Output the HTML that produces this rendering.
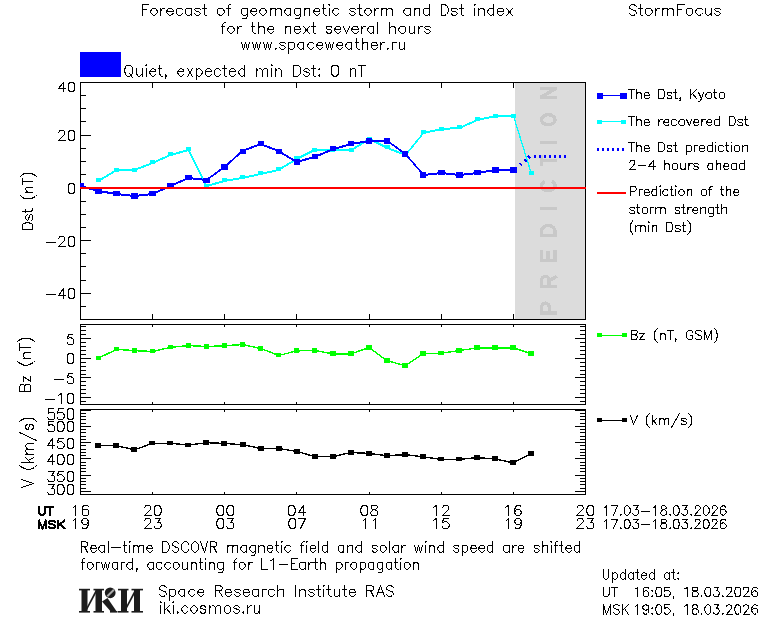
<!DOCTYPE html>
<html><head><meta charset="utf-8"><title>StormFocus</title>
<style>html,body{margin:0;padding:0;background:#fff}body{width:760px;height:620px;overflow:hidden;font-family:"Liberation Sans",sans-serif}svg{display:block}</style></head><body>
<svg width="760" height="620" viewBox="0 0 760 620" shape-rendering="crispEdges">
<rect width="760" height="620" fill="#fff"/>
<title>StormFocus</title>
<desc>Forecast of geomagnetic storm and Dst index for the next several hours. www.spaceweather.ru. Quiet, expected min Dst: 0 nT. Legend: The Dst, Kyoto; The recovered Dst; The Dst prediction 2-4 hours ahead; Prediction of the storm strength (min Dst); Bz (nT, GSM); V (km/s). Real-time DSCOVR magnetic field and solar wind speed are shifted forward, accounting for L1-Earth propagation. Space Research Institute RAS, iki.cosmos.ru. Updated at: UT 16:05, 18.03.2026; MSK 19:05, 18.03.2026.</desc>
<rect x="80" y="52" width="41" height="25" fill="#0000ff"/>
<path d="M80 95.5H86M580 95.5H586M80 108.5H86M580 108.5H586M80 121.5H86M580 121.5H586M80 135.5H91M575 135.5H586M80 148.5H86M580 148.5H586M80 161.5H86M580 161.5H586M80 174.5H86M580 174.5H586M80 187.5H91M575 187.5H586M80 201.5H86M580 201.5H586M80 214.5H86M580 214.5H586M80 227.5H86M580 227.5H586M80 240.5H91M575 240.5H586M80 253.5H86M580 253.5H586M80 266.5H86M580 266.5H586M80 280.5H86M580 280.5H586M80 293.5H91M575 293.5H586M80 306.5H86M580 306.5H586M152.5 82V88M152.5 314V320M224.5 82V88M224.5 314V320M296.5 82V88M296.5 314V320M369.5 82V88M369.5 314V320M441.5 82V88M441.5 314V320M513.5 82V88M513.5 314V320M80 401.5H86M580 401.5H586M80 397.5H91M575 397.5H586M80 393.5H86M580 393.5H586M80 389.5H86M580 389.5H586M80 385.5H86M580 385.5H586M80 381.5H86M580 381.5H586M80 377.5H91M575 377.5H586M80 374.5H86M580 374.5H586M80 370.5H86M580 370.5H586M80 366.5H86M580 366.5H586M80 362.5H86M580 362.5H586M80 358.5H91M575 358.5H586M80 354.5H86M580 354.5H586M80 350.5H86M580 350.5H586M80 346.5H86M580 346.5H586M80 342.5H86M580 342.5H586M80 338.5H91M575 338.5H586M80 334.5H86M580 334.5H586M80 330.5H86M580 330.5H586M80 326.5H86M580 326.5H586M152.5 324V327M152.5 402V405M224.5 324V327M224.5 402V405M296.5 324V327M296.5 402V405M369.5 324V327M369.5 402V405M441.5 324V327M441.5 402V405M513.5 324V327M513.5 402V405M80 491.5H91M575 491.5H586M80 488.5H86M580 488.5H586M80 484.5H86M580 484.5H586M80 481.5H86M580 481.5H586M80 478.5H86M580 478.5H586M80 475.5H91M575 475.5H586M80 471.5H86M580 471.5H586M80 468.5H86M580 468.5H586M80 465.5H86M580 465.5H586M80 462.5H86M580 462.5H586M80 458.5H91M575 458.5H586M80 455.5H86M580 455.5H586M80 452.5H86M580 452.5H586M80 449.5H86M580 449.5H586M80 445.5H86M580 445.5H586M80 442.5H91M575 442.5H586M80 439.5H86M580 439.5H586M80 436.5H86M580 436.5H586M80 432.5H86M580 432.5H586M80 429.5H86M580 429.5H586M80 426.5H91M575 426.5H586M80 423.5H86M580 423.5H586M80 419.5H86M580 419.5H586M80 416.5H86M580 416.5H586M80 413.5H86M580 413.5H586M152.5 409V412M152.5 492V495M224.5 409V412M224.5 492V495M296.5 409V412M296.5 492V495M369.5 409V412M369.5 492V495M441.5 409V412M441.5 492V495M513.5 409V412M513.5 492V495M80 410.5H91M575 410.5H586" fill="none" stroke="#000" stroke-width="1"/>
<rect x="515" y="83" width="70" height="236" fill="#dcdcdc"/>
<path d="M80.5 82.5H585.5V319.5H80.5ZM80.5 324.5H585.5V404.5H80.5ZM80.5 409.5H585.5V494.5H80.5Z" fill="none" stroke="#000" stroke-width="1"/>
<g fill="none" stroke="#c8c8c8" stroke-width="3.4" stroke-linejoin="miter">
<path transform="translate(539.8 314.7) rotate(-90)" d="M1.7 17V1.7H7.4A4.2 3.9 0 0 1 7.4 9.5H1.7"/>
<path transform="translate(539.8 288.1) rotate(-90)" d="M1.7 17V1.7H7.6A4.2 3.8 0 0 1 7.6 9.3H1.7M7.2 9.3L12 17"/>
<path transform="translate(539.8 262.1) rotate(-90)" d="M12.2 1.7H1.7V15.3H12.2M1.7 8.3H11"/>
<path transform="translate(539.8 237) rotate(-90)" d="M1.7 1.7H5.3A6.3 6.8 0 0 1 5.3 15.3H1.7Z"/>
<path transform="translate(539.8 210.3) rotate(-90)" d="M1.7 0V17"/>
<path transform="translate(539.8 193) rotate(-90)" d="M11.6 4.9A5.05 6.8 0 1 0 11.6 12.1"/>
<path transform="translate(539.8 166) rotate(-90)" d="M0 1.7H11.5M5.75 1.7V17"/>
<path transform="translate(539.8 144.2) rotate(-90)" d="M1.7 0V17"/>
<path transform="translate(539.8 126.5) rotate(-90)" d="M1.7 8.5A5.05 6.8 0 1 0 11.8 8.5A5.05 6.8 0 1 0 1.7 8.5Z"/>
<path transform="translate(539.8 99) rotate(-90)" d="M1.7 17V0M10.5 0V17M1.9 1.2L10.3 15.8"/>
</g>
<clipPath id="cp"><rect x="80" y="82" width="506" height="413"/></clipPath>
<g clip-path="url(#cp)">
<path d="M98.5 180.5L116.5 169.5L134.5 169.5L152.5 162.5L170.5 154.5L188.5 149.5L206.5 185.5L224.5 180.5L242.5 177.5L260.5 173.5L278.5 169.5L296.5 158.5L314.5 149.5L333.5 149.5L351.5 149.5L369.5 138.5L387.5 147.5L405.5 154.5L423.5 132.5L441.5 128.5L459.5 127.5L477.5 119.5L495.5 115.5L513.5 115.5L531.5 173.5" fill="none" stroke="#00ffff" stroke-width="1"/>
<path transform="translate(0 1)" d="M98.5 180.5L116.5 169.5L134.5 169.5L152.5 162.5L170.5 154.5L188.5 149.5L206.5 185.5L224.5 180.5L242.5 177.5L260.5 173.5L278.5 169.5L296.5 158.5L314.5 149.5L333.5 149.5L351.5 149.5L369.5 138.5L387.5 147.5L405.5 154.5L423.5 132.5L441.5 128.5L459.5 127.5L477.5 119.5L495.5 115.5L513.5 115.5L531.5 173.5" fill="none" stroke="#00ffff" stroke-width="1"/>
<path d="M96 178h5v4h-5zM114 168h5v4h-5zM132 168h5v4h-5zM150 160h5v4h-5zM168 152h5v4h-5zM186 147h5v4h-5zM204 184h5v4h-5zM222 178h5v4h-5zM240 175h5v4h-5zM258 171h5v4h-5zM276 167h5v4h-5zM294 156h5v4h-5zM312 148h5v4h-5zM330 148h5v4h-5zM349 148h5v4h-5zM367 137h5v4h-5zM385 145h5v4h-5zM403 152h5v4h-5zM421 130h5v4h-5zM439 127h5v4h-5zM457 125h5v4h-5zM475 117h5v4h-5zM493 114h5v4h-5zM511 114h5v4h-5zM529 171h5v4h-5z" fill="#00ffff"/>
<path d="M80.5 185.5L98.5 190.5L116.5 193.5L134.5 195.5L152.5 193.5L170.5 185.5L188.5 177.5L206.5 179.5L224.5 166.5L242.5 150.5L260.5 143.5L278.5 150.5L296.5 161.5L314.5 156.5L333.5 148.5L351.5 143.5L369.5 140.5L387.5 140.5L405.5 153.5L423.5 174.5L441.5 172.5L459.5 174.5L477.5 172.5L495.5 169.5L513.5 169.5" fill="none" stroke="#0000ff" stroke-width="1"/>
<path transform="translate(0 1)" d="M80.5 185.5L98.5 190.5L116.5 193.5L134.5 195.5L152.5 193.5L170.5 185.5L188.5 177.5L206.5 179.5L224.5 166.5L242.5 150.5L260.5 143.5L278.5 150.5L296.5 161.5L314.5 156.5L333.5 148.5L351.5 143.5L369.5 140.5L387.5 140.5L405.5 153.5L423.5 174.5L441.5 172.5L459.5 174.5L477.5 172.5L495.5 169.5L513.5 169.5" fill="none" stroke="#0000ff" stroke-width="1"/>
<path d="M77 183h7v5h-7zM95 188h7v6h-7zM113 191h7v5h-7zM131 193h7v6h-7zM149 191h7v5h-7zM167 183h7v5h-7zM185 175h7v5h-7zM203 178h7v5h-7zM221 164h7v6h-7zM240 149h6v5h-6zM258 141h6v5h-6zM276 149h6v5h-6zM294 159h6v6h-6zM312 154h6v5h-6zM330 146h6v5h-6zM348 141h6v5h-6zM366 138h6v6h-6zM384 138h6v6h-6zM402 151h6v6h-6zM420 172h6v6h-6zM438 170h7v5h-7zM456 172h7v6h-7zM474 170h7v5h-7zM492 167h7v6h-7zM510 167h7v6h-7z" fill="#0000ff"/>
<path d="M531.39 156.5H566.46" fill="none" stroke="#0000ff" stroke-width="3" stroke-dasharray="2 3" stroke-dashoffset="2.35"/>
<path d="M519.7 163.2l2.4 2.4M524 159.4l2.4 2.4M527.8 156l2.4 2.4" fill="none" stroke="#0000ff" stroke-width="2"/>
<rect x="80" y="187" width="506" height="2" fill="#ff0000"/>
<path d="M98.54 358.15L116.57 349.35L134.61 350.65L152.64 351.45L170.68 347.35L188.71 345.55L206.75 346.55L224.79 345.65L242.82 344.55L260.86 348.55L278.89 355.45L296.93 350.85L314.96 350.55L333 353.85L351.04 353.85L369.07 347.55L387.11 360.75L405.14 365.65L423.18 353.85L441.21 353.25L459.25 350.55L477.29 347.95L495.32 347.95L513.36 347.85L531.39 353.75" fill="none" stroke="#00ff00" stroke-width="1.4"/>
<path d="M96 356h5v4h-5zM114 347h5v4h-5zM132 348h5v5h-5zM150 349h5v4h-5zM168 345h5v4h-5zM186 343h5v5h-5zM204 344h5v5h-5zM222 343h5v5h-5zM240 342h5v5h-5zM258 346h5v5h-5zM276 353h5v4h-5zM294 348h5v5h-5zM312 348h5v5h-5zM330 351h6v5h-6zM348 351h6v5h-6zM366 345h6v5h-6zM384 358h6v5h-6zM402 363h6v5h-6zM420 351h6v5h-6zM438 351h6v4h-6zM456 348h6v5h-6zM474 345h6v5h-6zM492 345h6v5h-6zM510 345h6v5h-6zM528 351h6v5h-6z" fill="#00ff00"/>
<path d="M98.54 445.75L116.57 445.75L134.61 449.75L152.64 443.25L170.68 443.25L188.71 445.15L206.75 442.65L224.79 443.45L242.82 444.75L260.86 448.55L278.89 448.55L296.93 451.45L314.96 456.65L333 456.65L351.04 452.45L369.07 453.45L387.11 455.65L405.14 454.65L423.18 456.85L441.21 459.35L459.25 459.35L477.29 457.65L495.32 458.95L513.36 462.85L531.39 453.55" fill="none" stroke="#000" stroke-width="1.4"/>
<path d="M95 443h6v5h-6zM113 443h6v5h-6zM131 447h6v5h-6zM149 441h6v4h-6zM167 441h6v4h-6zM185 443h6v4h-6zM203 440h6v5h-6zM221 441h6v5h-6zM240 442h6v5h-6zM258 446h6v5h-6zM276 446h6v5h-6zM294 449h6v5h-6zM312 454h6v5h-6zM330 454h6v5h-6zM348 450h6v5h-6zM366 451h6v5h-6zM384 453h6v5h-6zM402 452h6v5h-6zM420 454h6v5h-6zM438 457h6v4h-6zM456 457h6v4h-6zM474 455h6v5h-6zM492 456h6v5h-6zM510 460h6v5h-6zM528 451h6v5h-6z" fill="#000"/>
</g>
<path d="M600 95.5H624" stroke="#0000ff" stroke-width="1" fill="none"/>
<path d="M597 93h6v6h-6zM620 93h7v6h-7z" fill="#0000ff"/>
<path d="M599 121.5H624" stroke="#00ffff" stroke-width="1" fill="none"/>
<path d="M597 120h5v4h-5zM621 120h5v4h-5z" fill="#00ffff"/>
<path d="M597 149.5H626" stroke="#0000ff" stroke-width="3" stroke-dasharray="2 3" fill="none"/>
<rect x="597" y="192" width="29" height="2" fill="#ff0000"/>
<path d="M599 335.5H625" stroke="#00ff00" stroke-width="1" fill="none"/>
<path d="M597 333h5v4h-5zM622 333h5v4h-5z" fill="#00ff00"/>
<path d="M599 420.5H625" stroke="#000" stroke-width="1" fill="none"/>
<path d="M597 418h5v4h-5zM622 418h5v4h-5z" fill="#000"/>
<path d="M142.5 4.5L142.5 15.5M142.5 4.5L148.5 4.5M142.5 9.5L146.5 9.5M153.5 8.5L152.5 8.5L151.5 9.5L150.5 11.5L150.5 12.5L151.5 13.5L152.5 14.5L153.5 15.5L154.5 15.5L155.5 14.5L156.5 13.5L157.5 12.5L157.5 11.5L156.5 9.5L155.5 8.5L154.5 8.5L153.5 8.5M160.5 8.5L160.5 15.5M160.5 11.5L161.5 9.5L162.5 8.5L163.5 8.5L164.5 8.5M166.5 11.5L173.5 11.5L173.5 10.5L172.5 9.5L171.5 8.5L170.5 8.5L169.5 8.5L168.5 8.5L167.5 9.5L166.5 11.5L166.5 12.5L167.5 13.5L168.5 14.5L169.5 15.5L170.5 15.5L171.5 14.5L173.5 13.5M182.5 9.5L181.5 8.5L180.5 8.5L178.5 8.5L177.5 8.5L176.5 9.5L176.5 11.5L176.5 12.5L176.5 13.5L177.5 14.5L178.5 15.5L180.5 15.5L181.5 14.5L182.5 13.5M191.5 8.5L191.5 15.5M191.5 9.5L190.5 8.5L189.5 8.5L187.5 8.5L186.5 8.5L185.5 9.5L185.5 11.5L185.5 12.5L185.5 13.5L186.5 14.5L187.5 15.5L189.5 15.5L190.5 14.5L191.5 13.5M200.5 9.5L199.5 8.5L198.5 8.5L196.5 8.5L195.5 8.5L194.5 9.5L195.5 10.5L196.5 11.5L198.5 11.5L199.5 12.5L200.5 13.5L199.5 14.5L198.5 15.5L196.5 15.5L195.5 14.5L194.5 13.5M204.5 4.5L204.5 13.5L204.5 14.5L205.5 15.5L206.5 15.5M202.5 8.5L206.5 8.5M220.5 8.5L218.5 8.5L217.5 9.5L217.5 11.5L217.5 12.5L217.5 13.5L218.5 14.5L220.5 15.5L221.5 15.5L222.5 14.5L223.5 13.5L224.5 12.5L224.5 11.5L223.5 9.5L222.5 8.5L221.5 8.5L220.5 8.5M230.5 4.5L229.5 4.5L228.5 5.5L228.5 6.5L228.5 15.5M226.5 8.5L230.5 8.5M247.5 8.5L247.5 16.5L246.5 17.5L246.5 18.5L245.5 18.5L243.5 18.5L242.5 18.5M247.5 9.5L246.5 8.5L245.5 8.5L243.5 8.5L242.5 8.5L241.5 9.5L241.5 11.5L241.5 12.5L241.5 13.5L242.5 14.5L243.5 15.5L245.5 15.5L246.5 14.5L247.5 13.5M250.5 11.5L256.5 11.5L256.5 10.5L256.5 9.5L255.5 8.5L254.5 8.5L253.5 8.5L252.5 8.5L251.5 9.5L250.5 11.5L250.5 12.5L251.5 13.5L252.5 14.5L253.5 15.5L254.5 15.5L255.5 14.5L256.5 13.5M262.5 8.5L261.5 8.5L260.5 9.5L259.5 11.5L259.5 12.5L260.5 13.5L261.5 14.5L262.5 15.5L263.5 15.5L264.5 14.5L265.5 13.5L266.5 12.5L266.5 11.5L265.5 9.5L264.5 8.5L263.5 8.5L262.5 8.5M270.5 8.5L270.5 15.5M270.5 10.5L271.5 8.5L272.5 8.5L274.5 8.5L275.5 8.5L275.5 10.5L275.5 15.5M275.5 10.5L277.5 8.5L278.5 8.5L279.5 8.5L280.5 8.5L281.5 10.5L281.5 15.5M290.5 8.5L290.5 15.5M290.5 9.5L289.5 8.5L288.5 8.5L287.5 8.5L286.5 8.5L285.5 9.5L284.5 11.5L284.5 12.5L285.5 13.5L286.5 14.5L287.5 15.5L288.5 15.5L289.5 14.5L290.5 13.5M300.5 8.5L300.5 16.5L299.5 17.5L299.5 18.5L298.5 18.5L296.5 18.5L295.5 18.5M300.5 9.5L299.5 8.5L298.5 8.5L296.5 8.5L295.5 8.5L294.5 9.5L294.5 11.5L294.5 12.5L294.5 13.5L295.5 14.5L296.5 15.5L298.5 15.5L299.5 14.5L300.5 13.5M304.5 8.5L304.5 15.5M304.5 10.5L305.5 8.5L306.5 8.5L308.5 8.5L309.5 8.5L309.5 10.5L309.5 15.5M313.5 11.5L319.5 11.5L319.5 10.5L319.5 9.5L318.5 8.5L317.5 8.5L316.5 8.5L315.5 8.5L314.5 9.5L313.5 11.5L313.5 12.5L314.5 13.5L315.5 14.5L316.5 15.5L317.5 15.5L318.5 14.5L319.5 13.5M323.5 4.5L323.5 13.5L324.5 14.5L325.5 15.5L326.5 15.5M322.5 8.5L325.5 8.5M328.5 4.5L329.5 5.5L329.5 4.5L328.5 4.5M329.5 8.5L329.5 15.5M338.5 9.5L337.5 8.5L336.5 8.5L335.5 8.5L334.5 8.5L333.5 9.5L332.5 11.5L332.5 12.5L333.5 13.5L334.5 14.5L335.5 15.5L336.5 15.5L337.5 14.5L338.5 13.5M355.5 9.5L354.5 8.5L353.5 8.5L351.5 8.5L350.5 8.5L349.5 9.5L350.5 10.5L351.5 11.5L353.5 11.5L354.5 12.5L355.5 13.5L354.5 14.5L353.5 15.5L351.5 15.5L350.5 14.5L349.5 13.5M359.5 4.5L359.5 13.5L359.5 14.5L361.5 15.5L362.5 15.5M357.5 8.5L361.5 8.5M367.5 8.5L366.5 8.5L365.5 9.5L364.5 11.5L364.5 12.5L365.5 13.5L366.5 14.5L367.5 15.5L368.5 15.5L369.5 14.5L370.5 13.5L371.5 12.5L371.5 11.5L370.5 9.5L369.5 8.5L368.5 8.5L367.5 8.5M374.5 8.5L374.5 15.5M374.5 11.5L375.5 9.5L376.5 8.5L377.5 8.5L378.5 8.5M381.5 8.5L381.5 15.5M381.5 10.5L382.5 8.5L383.5 8.5L385.5 8.5L386.5 8.5L386.5 10.5L386.5 15.5M386.5 10.5L388.5 8.5L389.5 8.5L390.5 8.5L391.5 8.5L392.5 10.5L392.5 15.5M410.5 8.5L410.5 15.5M410.5 9.5L409.5 8.5L408.5 8.5L406.5 8.5L405.5 8.5L404.5 9.5L403.5 11.5L403.5 12.5L404.5 13.5L405.5 14.5L406.5 15.5L408.5 15.5L409.5 14.5L410.5 13.5M414.5 8.5L414.5 15.5M414.5 10.5L415.5 8.5L416.5 8.5L418.5 8.5L419.5 8.5L419.5 10.5L419.5 15.5M429.5 4.5L429.5 15.5M429.5 9.5L428.5 8.5L427.5 8.5L425.5 8.5L424.5 8.5L423.5 9.5L423.5 11.5L423.5 12.5L423.5 13.5L424.5 14.5L425.5 15.5L427.5 15.5L428.5 14.5L429.5 13.5M441.5 4.5L441.5 15.5M441.5 4.5L444.5 4.5L446.5 5.5L447.5 6.5L447.5 7.5L448.5 8.5L448.5 11.5L447.5 12.5L447.5 13.5L446.5 14.5L444.5 15.5L441.5 15.5M457.5 9.5L456.5 8.5L455.5 8.5L453.5 8.5L451.5 8.5L451.5 9.5L451.5 10.5L452.5 11.5L455.5 11.5L456.5 12.5L457.5 13.5L456.5 14.5L455.5 15.5L453.5 15.5L451.5 14.5L451.5 13.5M461.5 4.5L461.5 13.5L461.5 14.5L462.5 15.5L463.5 15.5M459.5 8.5L463.5 8.5M474.5 4.5L474.5 5.5L475.5 4.5L474.5 4.5M474.5 8.5L474.5 15.5M478.5 8.5L478.5 15.5M478.5 10.5L480.5 8.5L481.5 8.5L482.5 8.5L483.5 8.5L484.5 10.5L484.5 15.5M493.5 4.5L493.5 15.5M493.5 9.5L492.5 8.5L491.5 8.5L490.5 8.5L489.5 8.5L488.5 9.5L487.5 11.5L487.5 12.5L488.5 13.5L489.5 14.5L490.5 15.5L491.5 15.5L492.5 14.5L493.5 13.5M497.5 11.5L503.5 11.5L503.5 10.5L503.5 9.5L502.5 8.5L501.5 8.5L499.5 8.5L498.5 8.5L497.5 9.5L497.5 11.5L497.5 12.5L497.5 13.5L498.5 14.5L499.5 15.5L501.5 15.5L502.5 14.5L503.5 13.5M506.5 8.5L512.5 15.5M512.5 8.5L506.5 15.5M225.5 22.5L224.5 22.5L223.5 23.5L222.5 24.5L222.5 33.5M221.5 26.5L224.5 26.5M230.5 26.5L229.5 26.5L228.5 27.5L227.5 29.5L227.5 30.5L228.5 31.5L229.5 32.5L230.5 33.5L231.5 33.5L232.5 32.5L233.5 31.5L234.5 30.5L234.5 29.5L233.5 27.5L232.5 26.5L231.5 26.5L230.5 26.5M237.5 26.5L237.5 33.5M237.5 29.5L238.5 27.5L239.5 26.5L240.5 26.5L241.5 26.5M252.5 22.5L252.5 31.5L253.5 32.5L254.5 33.5L255.5 33.5M251.5 26.5L254.5 26.5M258.5 22.5L258.5 33.5M258.5 28.5L259.5 26.5L260.5 26.5L262.5 26.5L263.5 26.5L264.5 28.5L264.5 33.5M267.5 29.5L273.5 29.5L273.5 28.5L273.5 27.5L272.5 26.5L271.5 26.5L270.5 26.5L269.5 26.5L268.5 27.5L267.5 29.5L267.5 30.5L268.5 31.5L269.5 32.5L270.5 33.5L271.5 33.5L272.5 32.5L273.5 31.5M285.5 26.5L285.5 33.5M285.5 28.5L286.5 26.5L287.5 26.5L289.5 26.5L290.5 26.5L290.5 28.5L290.5 33.5M294.5 29.5L300.5 29.5L300.5 28.5L299.5 27.5L299.5 26.5L298.5 26.5L296.5 26.5L295.5 26.5L294.5 27.5L294.5 29.5L294.5 30.5L294.5 31.5L295.5 32.5L296.5 33.5L298.5 33.5L299.5 32.5L300.5 31.5M303.5 26.5L309.5 33.5M309.5 26.5L303.5 33.5M313.5 22.5L313.5 31.5L313.5 32.5L314.5 33.5L315.5 33.5M311.5 26.5L315.5 26.5M331.5 27.5L331.5 26.5L329.5 26.5L328.5 26.5L326.5 26.5L326.5 27.5L326.5 28.5L327.5 29.5L330.5 29.5L331.5 30.5L331.5 31.5L331.5 32.5L329.5 33.5L328.5 33.5L326.5 32.5L326.5 31.5M334.5 29.5L340.5 29.5L340.5 28.5L340.5 27.5L339.5 26.5L338.5 26.5L337.5 26.5L336.5 26.5L335.5 27.5L334.5 29.5L334.5 30.5L335.5 31.5L336.5 32.5L337.5 33.5L338.5 33.5L339.5 32.5L340.5 31.5M343.5 26.5L346.5 33.5M349.5 26.5L346.5 33.5M351.5 29.5L358.5 29.5L358.5 28.5L357.5 27.5L357.5 26.5L356.5 26.5L354.5 26.5L353.5 26.5L352.5 27.5L351.5 29.5L351.5 30.5L352.5 31.5L353.5 32.5L354.5 33.5L356.5 33.5L357.5 32.5L358.5 31.5M361.5 26.5L361.5 33.5M361.5 29.5L362.5 27.5L363.5 26.5L364.5 26.5L365.5 26.5M373.5 26.5L373.5 33.5M373.5 27.5L372.5 26.5L371.5 26.5L370.5 26.5L369.5 26.5L368.5 27.5L367.5 29.5L367.5 30.5L368.5 31.5L369.5 32.5L370.5 33.5L371.5 33.5L372.5 32.5L373.5 31.5M377.5 22.5L377.5 33.5M389.5 22.5L389.5 33.5M389.5 28.5L391.5 26.5L392.5 26.5L393.5 26.5L394.5 26.5L395.5 28.5L395.5 33.5M401.5 26.5L400.5 26.5L399.5 27.5L398.5 29.5L398.5 30.5L399.5 31.5L400.5 32.5L401.5 33.5L403.5 33.5L404.5 32.5L405.5 31.5L405.5 30.5L405.5 29.5L405.5 27.5L404.5 26.5L403.5 26.5L401.5 26.5M409.5 26.5L409.5 31.5L409.5 32.5L410.5 33.5L412.5 33.5L413.5 32.5L414.5 31.5M414.5 26.5L414.5 33.5M418.5 26.5L418.5 33.5M418.5 29.5L419.5 27.5L420.5 26.5L421.5 26.5L422.5 26.5M430.5 27.5L429.5 26.5L428.5 26.5L426.5 26.5L425.5 26.5L424.5 27.5L425.5 28.5L426.5 29.5L428.5 29.5L429.5 30.5L430.5 31.5L429.5 32.5L428.5 33.5L426.5 33.5L425.5 32.5L424.5 31.5M241.5 42.5L243.5 49.5M245.5 42.5L243.5 49.5M245.5 42.5L247.5 49.5M249.5 42.5L247.5 49.5M252.5 42.5L254.5 49.5M256.5 42.5L254.5 49.5M256.5 42.5L258.5 49.5M260.5 42.5L258.5 49.5M263.5 42.5L265.5 49.5M267.5 42.5L265.5 49.5M267.5 42.5L269.5 49.5M271.5 42.5L269.5 49.5M275.5 48.5L275.5 49.5L276.5 48.5L275.5 48.5M285.5 43.5L284.5 42.5L283.5 42.5L281.5 42.5L280.5 42.5L279.5 43.5L280.5 44.5L281.5 45.5L283.5 45.5L284.5 46.5L285.5 47.5L284.5 48.5L283.5 49.5L281.5 49.5L280.5 48.5L279.5 47.5M288.5 42.5L288.5 53.5M288.5 43.5L289.5 42.5L290.5 42.5L292.5 42.5L293.5 42.5L294.5 43.5L294.5 45.5L294.5 46.5L294.5 47.5L293.5 48.5L292.5 49.5L290.5 49.5L289.5 48.5L288.5 47.5M303.5 42.5L303.5 49.5M303.5 43.5L302.5 42.5L301.5 42.5L300.5 42.5L299.5 42.5L298.5 43.5L297.5 45.5L297.5 46.5L298.5 47.5L299.5 48.5L300.5 49.5L301.5 49.5L302.5 48.5L303.5 47.5M313.5 43.5L312.5 42.5L311.5 42.5L310.5 42.5L309.5 42.5L308.5 43.5L307.5 45.5L307.5 46.5L308.5 47.5L309.5 48.5L310.5 49.5L311.5 49.5L312.5 48.5L313.5 47.5M316.5 45.5L322.5 45.5L322.5 44.5L322.5 43.5L321.5 42.5L320.5 42.5L319.5 42.5L318.5 42.5L317.5 43.5L316.5 45.5L316.5 46.5L317.5 47.5L318.5 48.5L319.5 49.5L320.5 49.5L321.5 48.5L322.5 47.5M325.5 42.5L327.5 49.5M329.5 42.5L327.5 49.5M329.5 42.5L331.5 49.5M333.5 42.5L331.5 49.5M336.5 45.5L342.5 45.5L342.5 44.5L342.5 43.5L341.5 42.5L340.5 42.5L339.5 42.5L338.5 42.5L337.5 43.5L336.5 45.5L336.5 46.5L337.5 47.5L338.5 48.5L339.5 49.5L340.5 49.5L341.5 48.5L342.5 47.5M351.5 42.5L351.5 49.5M351.5 43.5L350.5 42.5L349.5 42.5L348.5 42.5L347.5 42.5L346.5 43.5L345.5 45.5L345.5 46.5L346.5 47.5L347.5 48.5L348.5 49.5L349.5 49.5L350.5 48.5L351.5 47.5M356.5 38.5L356.5 47.5L357.5 48.5L358.5 49.5L359.5 49.5M355.5 42.5L358.5 42.5M362.5 38.5L362.5 49.5M362.5 44.5L363.5 42.5L364.5 42.5L366.5 42.5L367.5 42.5L367.5 44.5L367.5 49.5M371.5 45.5L377.5 45.5L377.5 44.5L376.5 43.5L376.5 42.5L375.5 42.5L373.5 42.5L372.5 42.5L371.5 43.5L371.5 45.5L371.5 46.5L371.5 47.5L372.5 48.5L373.5 49.5L375.5 49.5L376.5 48.5L377.5 47.5M380.5 42.5L380.5 49.5M380.5 45.5L381.5 43.5L382.5 42.5L383.5 42.5L384.5 42.5M387.5 48.5L387.5 49.5L388.5 48.5L387.5 48.5M392.5 42.5L392.5 49.5M392.5 45.5L392.5 43.5L393.5 42.5L394.5 42.5L396.5 42.5M399.5 42.5L399.5 47.5L399.5 48.5L400.5 49.5L402.5 49.5L403.5 48.5L404.5 47.5M404.5 42.5L404.5 49.5M636.5 6.5L635.5 5.5L633.5 4.5L631.5 4.5L630.5 5.5L629.5 6.5L629.5 7.5L629.5 8.5L630.5 8.5L631.5 9.5L634.5 10.5L635.5 10.5L635.5 11.5L636.5 12.5L636.5 13.5L635.5 14.5L633.5 15.5L631.5 15.5L630.5 14.5L629.5 13.5M640.5 4.5L640.5 13.5L640.5 14.5L641.5 15.5L642.5 15.5M638.5 8.5L642.5 8.5M647.5 8.5L646.5 8.5L645.5 9.5L645.5 11.5L645.5 12.5L645.5 13.5L646.5 14.5L647.5 15.5L649.5 15.5L650.5 14.5L651.5 13.5L652.5 12.5L652.5 11.5L651.5 9.5L650.5 8.5L649.5 8.5L647.5 8.5M655.5 8.5L655.5 15.5M655.5 11.5L656.5 9.5L657.5 8.5L658.5 8.5L659.5 8.5M662.5 8.5L662.5 15.5M662.5 10.5L663.5 8.5L664.5 8.5L666.5 8.5L667.5 8.5L667.5 10.5L667.5 15.5M667.5 10.5L669.5 8.5L670.5 8.5L671.5 8.5L672.5 8.5L673.5 10.5L673.5 15.5M677.5 4.5L677.5 15.5M677.5 4.5L684.5 4.5M677.5 9.5L681.5 9.5M688.5 8.5L687.5 8.5L686.5 9.5L686.5 11.5L686.5 12.5L686.5 13.5L687.5 14.5L688.5 15.5L690.5 15.5L691.5 14.5L692.5 13.5L692.5 12.5L692.5 11.5L692.5 9.5L691.5 8.5L690.5 8.5L688.5 8.5M702.5 9.5L701.5 8.5L699.5 8.5L698.5 8.5L697.5 8.5L696.5 9.5L695.5 11.5L695.5 12.5L696.5 13.5L697.5 14.5L698.5 15.5L699.5 15.5L701.5 14.5L702.5 13.5M705.5 8.5L705.5 13.5L706.5 14.5L707.5 15.5L708.5 15.5L709.5 14.5L711.5 13.5M711.5 8.5L711.5 15.5M720.5 9.5L719.5 8.5L718.5 8.5L716.5 8.5L715.5 8.5L714.5 9.5L715.5 10.5L716.5 11.5L718.5 11.5L719.5 12.5L720.5 13.5L719.5 14.5L718.5 15.5L716.5 15.5L715.5 14.5L714.5 13.5M127.5 65.5L126.5 65.5L125.5 66.5L125.5 67.5L124.5 69.5L124.5 71.5L125.5 73.5L125.5 74.5L126.5 75.5L127.5 76.5L129.5 76.5L130.5 75.5L131.5 74.5L132.5 73.5L132.5 71.5L132.5 69.5L132.5 67.5L131.5 66.5L130.5 65.5L129.5 65.5L127.5 65.5M129.5 73.5L132.5 77.5M136.5 68.5L136.5 73.5L137.5 75.5L138.5 76.5L139.5 76.5L140.5 75.5L142.5 73.5M142.5 68.5L142.5 76.5M145.5 65.5L146.5 65.5L146.5 64.5L145.5 65.5M146.5 68.5L146.5 76.5M149.5 71.5L155.5 71.5L155.5 70.5L155.5 69.5L154.5 69.5L153.5 68.5L152.5 68.5L151.5 69.5L150.5 70.5L149.5 71.5L149.5 72.5L150.5 74.5L151.5 75.5L152.5 76.5L153.5 76.5L154.5 75.5L155.5 74.5M159.5 65.5L159.5 73.5L160.5 75.5L161.5 76.5L162.5 76.5M158.5 68.5L161.5 68.5M166.5 75.5L165.5 76.5L165.5 75.5L165.5 74.5L166.5 75.5L166.5 76.5L165.5 77.5L165.5 78.5M177.5 71.5L183.5 71.5L183.5 70.5L183.5 69.5L182.5 69.5L181.5 68.5L180.5 68.5L179.5 69.5L178.5 70.5L177.5 71.5L177.5 72.5L178.5 74.5L179.5 75.5L180.5 76.5L181.5 76.5L182.5 75.5L183.5 74.5M187.5 68.5L192.5 76.5M192.5 68.5L187.5 76.5M196.5 68.5L196.5 79.5M196.5 70.5L197.5 69.5L198.5 68.5L199.5 68.5L200.5 69.5L201.5 70.5L202.5 71.5L202.5 72.5L201.5 74.5L200.5 75.5L199.5 76.5L198.5 76.5L197.5 75.5L196.5 74.5M205.5 71.5L211.5 71.5L211.5 70.5L210.5 69.5L209.5 68.5L207.5 68.5L206.5 69.5L205.5 70.5L205.5 71.5L205.5 72.5L205.5 74.5L206.5 75.5L207.5 76.5L209.5 76.5L210.5 75.5L211.5 74.5M220.5 70.5L219.5 69.5L218.5 68.5L216.5 68.5L215.5 69.5L214.5 70.5L214.5 71.5L214.5 72.5L214.5 74.5L215.5 75.5L216.5 76.5L218.5 76.5L219.5 75.5L220.5 74.5M224.5 65.5L224.5 73.5L224.5 75.5L225.5 76.5L226.5 76.5M222.5 68.5L226.5 68.5M229.5 71.5L235.5 71.5L235.5 70.5L234.5 69.5L233.5 68.5L231.5 68.5L230.5 69.5L229.5 70.5L229.5 71.5L229.5 72.5L229.5 74.5L230.5 75.5L231.5 76.5L233.5 76.5L234.5 75.5L235.5 74.5M244.5 65.5L244.5 76.5M244.5 70.5L243.5 69.5L242.5 68.5L241.5 68.5L240.5 69.5L239.5 70.5L238.5 71.5L238.5 72.5L239.5 74.5L240.5 75.5L241.5 76.5L242.5 76.5L243.5 75.5L244.5 74.5M256.5 68.5L256.5 76.5M256.5 70.5L258.5 69.5L259.5 68.5L260.5 68.5L261.5 69.5L262.5 70.5L262.5 76.5M262.5 70.5L263.5 69.5L264.5 68.5L266.5 68.5L267.5 69.5L267.5 70.5L267.5 76.5M271.5 65.5L272.5 65.5L271.5 64.5L271.5 65.5M271.5 68.5L271.5 76.5M275.5 68.5L275.5 76.5M275.5 70.5L277.5 69.5L278.5 68.5L279.5 68.5L280.5 69.5L281.5 70.5L281.5 76.5M293.5 65.5L293.5 76.5M293.5 65.5L297.5 65.5L298.5 65.5L299.5 66.5L300.5 67.5L300.5 69.5L300.5 71.5L300.5 73.5L299.5 74.5L298.5 75.5L297.5 76.5L293.5 76.5M309.5 70.5L308.5 69.5L307.5 68.5L305.5 68.5L304.5 69.5L303.5 70.5L304.5 71.5L305.5 71.5L307.5 72.5L308.5 72.5L309.5 73.5L309.5 74.5L308.5 75.5L307.5 76.5L305.5 76.5L304.5 75.5L303.5 74.5M313.5 65.5L313.5 73.5L313.5 75.5L314.5 76.5L315.5 76.5M311.5 68.5L315.5 68.5M319.5 68.5L318.5 69.5L319.5 69.5L319.5 68.5M319.5 74.5L318.5 75.5L319.5 76.5L319.5 75.5L319.5 74.5M334.5 65.5L332.5 65.5L331.5 67.5L331.5 69.5L331.5 71.5L331.5 73.5L332.5 75.5L334.5 76.5L335.5 76.5L337.5 75.5L338.5 73.5L338.5 71.5L338.5 69.5L338.5 67.5L337.5 65.5L335.5 65.5L334.5 65.5M350.5 68.5L350.5 76.5M350.5 70.5L351.5 69.5L352.5 68.5L354.5 68.5L355.5 69.5L355.5 70.5L355.5 76.5M361.5 65.5L361.5 76.5M358.5 65.5L365.5 65.5M63.5 82.5L58.5 88.5L65.5 88.5M63.5 82.5L63.5 91.5M71.5 82.5L69.5 82.5L68.5 84.5L68.5 86.5L68.5 87.5L68.5 89.5L69.5 91.5L71.5 91.5L73.5 91.5L74.5 89.5L74.5 87.5L74.5 86.5L74.5 84.5L73.5 82.5L71.5 82.5M58.5 132.5L59.5 131.5L59.5 130.5L60.5 130.5L62.5 130.5L63.5 130.5L64.5 131.5L64.5 132.5L64.5 133.5L64.5 134.5L63.5 135.5L58.5 140.5L65.5 140.5M71.5 130.5L69.5 130.5L68.5 132.5L68.5 134.5L68.5 136.5L68.5 138.5L69.5 140.5L71.5 140.5L73.5 140.5L74.5 138.5L74.5 136.5L74.5 134.5L74.5 132.5L73.5 130.5L71.5 130.5M71.5 183.5L69.5 183.5L68.5 185.5L68.5 187.5L68.5 189.5L68.5 191.5L69.5 193.5L71.5 193.5L73.5 193.5L74.5 191.5L74.5 189.5L74.5 187.5L74.5 185.5L73.5 183.5L71.5 183.5M46.5 242.5L55.5 242.5M58.5 238.5L59.5 237.5L59.5 236.5L60.5 236.5L62.5 236.5L63.5 236.5L64.5 237.5L64.5 238.5L64.5 239.5L64.5 240.5L63.5 241.5L58.5 246.5L65.5 246.5M71.5 236.5L69.5 236.5L68.5 238.5L68.5 240.5L68.5 242.5L68.5 244.5L69.5 246.5L71.5 246.5L73.5 246.5L74.5 244.5L74.5 242.5L74.5 240.5L74.5 238.5L73.5 236.5L71.5 236.5M46.5 294.5L55.5 294.5M63.5 288.5L58.5 295.5L65.5 295.5M63.5 288.5L63.5 298.5M71.5 288.5L69.5 288.5L68.5 290.5L68.5 292.5L68.5 294.5L68.5 296.5L69.5 298.5L71.5 298.5L73.5 298.5L74.5 296.5L74.5 294.5L74.5 292.5L74.5 290.5L73.5 288.5L71.5 288.5M22.5 229.5L32.5 229.5M22.5 229.5L22.5 226.5L22.5 224.5L23.5 223.5L24.5 223.5L26.5 222.5L28.5 222.5L30.5 223.5L31.5 223.5L32.5 224.5L32.5 226.5L32.5 229.5M27.5 214.5L26.5 215.5L25.5 216.5L25.5 218.5L26.5 219.5L27.5 220.5L28.5 219.5L28.5 218.5L29.5 216.5L29.5 215.5L30.5 214.5L31.5 214.5L32.5 215.5L32.5 216.5L32.5 218.5L32.5 219.5L31.5 220.5M22.5 211.5L30.5 211.5L32.5 210.5L32.5 209.5L32.5 208.5M25.5 212.5L25.5 209.5M20.5 195.5L21.5 196.5L22.5 197.5L24.5 198.5L27.5 198.5L29.5 198.5L31.5 198.5L33.5 197.5L35.5 196.5L36.5 195.5M25.5 192.5L32.5 192.5M27.5 192.5L26.5 190.5L25.5 189.5L25.5 188.5L26.5 187.5L27.5 187.5L32.5 187.5M22.5 181.5L32.5 181.5M22.5 184.5L22.5 178.5M20.5 176.5L21.5 175.5L22.5 174.5L24.5 173.5L27.5 173.5L29.5 173.5L31.5 173.5L33.5 174.5L35.5 175.5L36.5 176.5M72.5 334.5L68.5 334.5L67.5 338.5L68.5 338.5L69.5 337.5L70.5 337.5L72.5 338.5L73.5 339.5L73.5 340.5L73.5 341.5L73.5 343.5L72.5 344.5L70.5 344.5L69.5 344.5L68.5 344.5L67.5 343.5L67.5 342.5M70.5 353.5L68.5 353.5L67.5 355.5L67.5 357.5L67.5 359.5L67.5 361.5L68.5 363.5L70.5 363.5L72.5 363.5L73.5 361.5L73.5 359.5L73.5 357.5L73.5 355.5L72.5 353.5L70.5 353.5M54.5 379.5L63.5 379.5M72.5 373.5L68.5 373.5L67.5 377.5L68.5 377.5L69.5 376.5L70.5 376.5L72.5 377.5L73.5 378.5L73.5 379.5L73.5 380.5L73.5 382.5L72.5 383.5L70.5 383.5L69.5 383.5L68.5 383.5L67.5 382.5L67.5 381.5M45.5 399.5L54.5 399.5M58.5 395.5L59.5 394.5L61.5 393.5L61.5 403.5M70.5 393.5L68.5 393.5L67.5 395.5L67.5 397.5L67.5 399.5L67.5 401.5L68.5 403.5L70.5 403.5L72.5 403.5L73.5 401.5L73.5 399.5L73.5 397.5L73.5 395.5L72.5 393.5L70.5 393.5M19.5 391.5L30.5 391.5M19.5 391.5L19.5 386.5L20.5 385.5L20.5 384.5L21.5 384.5L22.5 384.5L23.5 384.5L24.5 385.5L24.5 386.5M24.5 391.5L24.5 386.5L25.5 385.5L25.5 384.5L26.5 384.5L28.5 384.5L29.5 384.5L30.5 385.5L30.5 386.5L30.5 391.5M23.5 376.5L30.5 381.5M23.5 381.5L23.5 376.5M30.5 381.5L30.5 376.5M17.5 361.5L18.5 362.5L20.5 363.5L22.5 364.5L24.5 365.5L26.5 365.5L29.5 364.5L31.5 363.5L33.5 362.5L34.5 361.5M23.5 358.5L30.5 358.5M25.5 358.5L23.5 356.5L23.5 355.5L23.5 354.5L23.5 353.5L25.5 352.5L30.5 352.5M19.5 347.5L30.5 347.5M19.5 350.5L19.5 343.5M17.5 341.5L18.5 340.5L20.5 339.5L22.5 338.5L24.5 338.5L26.5 338.5L29.5 338.5L31.5 339.5L33.5 340.5L34.5 341.5M53.5 408.5L48.5 408.5L48.5 413.5L48.5 412.5L50.5 412.5L51.5 412.5L53.5 412.5L54.5 413.5L54.5 415.5L54.5 416.5L54.5 418.5L53.5 419.5L51.5 419.5L50.5 419.5L48.5 419.5L48.5 418.5L47.5 417.5M63.5 408.5L58.5 408.5L57.5 413.5L58.5 412.5L59.5 412.5L61.5 412.5L62.5 412.5L63.5 413.5L64.5 415.5L64.5 416.5L63.5 418.5L62.5 419.5L61.5 419.5L59.5 419.5L58.5 419.5L57.5 418.5L57.5 417.5M70.5 408.5L68.5 408.5L67.5 410.5L67.5 413.5L67.5 414.5L67.5 417.5L68.5 419.5L70.5 419.5L72.5 419.5L73.5 417.5L73.5 414.5L73.5 413.5L73.5 410.5L72.5 408.5L70.5 408.5M53.5 421.5L48.5 421.5L48.5 425.5L50.5 424.5L51.5 424.5L53.5 425.5L54.5 426.5L54.5 427.5L54.5 428.5L54.5 430.5L53.5 431.5L51.5 431.5L50.5 431.5L48.5 431.5L48.5 430.5L47.5 429.5M60.5 421.5L58.5 421.5L57.5 423.5L57.5 425.5L57.5 427.5L57.5 429.5L58.5 431.5L60.5 431.5L61.5 431.5L62.5 431.5L63.5 429.5L64.5 427.5L64.5 425.5L63.5 423.5L62.5 421.5L61.5 421.5L60.5 421.5M70.5 421.5L68.5 421.5L67.5 423.5L67.5 425.5L67.5 427.5L67.5 429.5L68.5 431.5L70.5 431.5L72.5 431.5L73.5 429.5L73.5 427.5L73.5 425.5L73.5 423.5L72.5 421.5L70.5 421.5M52.5 438.5L47.5 445.5L54.5 445.5M52.5 438.5L52.5 448.5M63.5 438.5L58.5 438.5L57.5 442.5L58.5 442.5L59.5 441.5L61.5 441.5L62.5 442.5L63.5 443.5L64.5 444.5L64.5 445.5L63.5 447.5L62.5 448.5L61.5 448.5L59.5 448.5L58.5 448.5L57.5 447.5L57.5 446.5M70.5 438.5L68.5 438.5L67.5 440.5L67.5 442.5L67.5 444.5L67.5 446.5L68.5 448.5L70.5 448.5L72.5 448.5L73.5 446.5L73.5 444.5L73.5 442.5L73.5 440.5L72.5 438.5L70.5 438.5M52.5 454.5L47.5 461.5L54.5 461.5M52.5 454.5L52.5 464.5M60.5 454.5L58.5 454.5L57.5 456.5L57.5 458.5L57.5 460.5L57.5 462.5L58.5 464.5L60.5 464.5L61.5 464.5L62.5 464.5L63.5 462.5L64.5 460.5L64.5 458.5L63.5 456.5L62.5 454.5L61.5 454.5L60.5 454.5M70.5 454.5L68.5 454.5L67.5 456.5L67.5 458.5L67.5 460.5L67.5 462.5L68.5 464.5L70.5 464.5L72.5 464.5L73.5 462.5L73.5 460.5L73.5 458.5L73.5 456.5L72.5 454.5L70.5 454.5M48.5 471.5L54.5 471.5L51.5 475.5L52.5 475.5L53.5 475.5L54.5 476.5L54.5 477.5L54.5 478.5L54.5 480.5L53.5 481.5L51.5 481.5L50.5 481.5L48.5 481.5L48.5 480.5L47.5 479.5M63.5 471.5L58.5 471.5L57.5 475.5L58.5 475.5L59.5 474.5L61.5 474.5L62.5 475.5L63.5 476.5L64.5 477.5L64.5 478.5L63.5 480.5L62.5 481.5L61.5 481.5L59.5 481.5L58.5 481.5L57.5 480.5L57.5 479.5M70.5 471.5L68.5 471.5L67.5 473.5L67.5 475.5L67.5 477.5L67.5 479.5L68.5 481.5L70.5 481.5L72.5 481.5L73.5 479.5L73.5 477.5L73.5 475.5L73.5 473.5L72.5 471.5L70.5 471.5M48.5 484.5L54.5 484.5L51.5 488.5L52.5 488.5L53.5 488.5L54.5 489.5L54.5 490.5L54.5 491.5L54.5 493.5L53.5 494.5L51.5 494.5L50.5 494.5L48.5 494.5L48.5 493.5L47.5 492.5M60.5 484.5L58.5 484.5L57.5 486.5L57.5 488.5L57.5 490.5L57.5 492.5L58.5 494.5L60.5 494.5L61.5 494.5L62.5 494.5L63.5 492.5L64.5 490.5L64.5 488.5L63.5 486.5L62.5 484.5L61.5 484.5L60.5 484.5M70.5 484.5L68.5 484.5L67.5 486.5L67.5 488.5L67.5 490.5L67.5 492.5L68.5 494.5L70.5 494.5L72.5 494.5L73.5 492.5L73.5 490.5L73.5 488.5L73.5 486.5L72.5 484.5L70.5 484.5M21.5 487.5L33.5 483.5M21.5 479.5L33.5 483.5M19.5 465.5L20.5 466.5L22.5 467.5L24.5 468.5L27.5 469.5L29.5 469.5L32.5 468.5L34.5 467.5L35.5 466.5L36.5 465.5M21.5 462.5L33.5 462.5M25.5 457.5L30.5 462.5M28.5 460.5L33.5 457.5M25.5 454.5L33.5 454.5M27.5 454.5L26.5 452.5L25.5 451.5L25.5 450.5L26.5 449.5L27.5 449.5L33.5 449.5M27.5 449.5L26.5 447.5L25.5 446.5L25.5 445.5L26.5 444.5L27.5 443.5L33.5 443.5M19.5 432.5L36.5 440.5M27.5 424.5L26.5 424.5L25.5 426.5L25.5 427.5L26.5 429.5L27.5 429.5L28.5 429.5L28.5 428.5L29.5 425.5L29.5 424.5L30.5 424.5L31.5 424.5L32.5 424.5L33.5 426.5L33.5 427.5L32.5 429.5L31.5 429.5M19.5 421.5L20.5 420.5L22.5 419.5L24.5 418.5L27.5 418.5L29.5 418.5L32.5 418.5L34.5 419.5L35.5 420.5L36.5 421.5M73.5 507.5L74.5 506.5L75.5 505.5L75.5 515.5M88.5 506.5L87.5 505.5L86.5 505.5L85.5 505.5L83.5 505.5L82.5 507.5L82.5 509.5L82.5 512.5L82.5 514.5L83.5 515.5L85.5 515.5L87.5 515.5L88.5 514.5L88.5 512.5L88.5 510.5L87.5 509.5L85.5 509.5L83.5 509.5L82.5 510.5L82.5 512.5M73.5 520.5L74.5 519.5L75.5 518.5L75.5 528.5M88.5 521.5L87.5 523.5L86.5 524.5L85.5 524.5L84.5 524.5L83.5 524.5L82.5 523.5L81.5 521.5L82.5 519.5L83.5 518.5L84.5 518.5L85.5 518.5L86.5 518.5L87.5 519.5L88.5 521.5L88.5 524.5L87.5 526.5L86.5 528.5L85.5 528.5L84.5 528.5L82.5 528.5L82.5 527.5M144.5 507.5L145.5 506.5L145.5 505.5L146.5 505.5L148.5 505.5L149.5 505.5L150.5 506.5L150.5 507.5L150.5 508.5L150.5 509.5L149.5 510.5L144.5 515.5L151.5 515.5M157.5 505.5L155.5 505.5L154.5 507.5L154.5 509.5L154.5 511.5L154.5 513.5L155.5 515.5L157.5 515.5L158.5 515.5L159.5 515.5L160.5 513.5L161.5 511.5L161.5 509.5L160.5 507.5L159.5 505.5L158.5 505.5L157.5 505.5M144.5 520.5L145.5 519.5L145.5 518.5L146.5 518.5L148.5 518.5L149.5 518.5L150.5 519.5L150.5 520.5L150.5 521.5L150.5 522.5L149.5 523.5L144.5 528.5L151.5 528.5M155.5 518.5L160.5 518.5L157.5 522.5L159.5 522.5L160.5 522.5L160.5 523.5L161.5 524.5L161.5 525.5L160.5 527.5L159.5 528.5L158.5 528.5L156.5 528.5L155.5 528.5L154.5 527.5L154.5 526.5M219.5 505.5L218.5 505.5L217.5 507.5L216.5 509.5L216.5 511.5L217.5 513.5L218.5 515.5L219.5 515.5L220.5 515.5L222.5 515.5L223.5 513.5L223.5 511.5L223.5 509.5L223.5 507.5L222.5 505.5L220.5 505.5L219.5 505.5M229.5 505.5L228.5 505.5L227.5 507.5L226.5 509.5L226.5 511.5L227.5 513.5L228.5 515.5L229.5 515.5L230.5 515.5L232.5 515.5L233.5 513.5L233.5 511.5L233.5 509.5L233.5 507.5L232.5 505.5L230.5 505.5L229.5 505.5M219.5 518.5L218.5 518.5L217.5 520.5L216.5 522.5L216.5 524.5L217.5 526.5L218.5 528.5L219.5 528.5L220.5 528.5L222.5 528.5L223.5 526.5L223.5 524.5L223.5 522.5L223.5 520.5L222.5 518.5L220.5 518.5L219.5 518.5M227.5 518.5L233.5 518.5L230.5 522.5L231.5 522.5L232.5 522.5L233.5 523.5L233.5 524.5L233.5 525.5L233.5 527.5L232.5 528.5L230.5 528.5L229.5 528.5L227.5 528.5L227.5 527.5L226.5 526.5M291.5 505.5L289.5 505.5L288.5 507.5L288.5 509.5L288.5 511.5L288.5 513.5L289.5 515.5L291.5 515.5L292.5 515.5L293.5 515.5L294.5 513.5L295.5 511.5L295.5 509.5L294.5 507.5L293.5 505.5L292.5 505.5L291.5 505.5M303.5 505.5L298.5 512.5L305.5 512.5M303.5 505.5L303.5 515.5M291.5 518.5L290.5 518.5L289.5 520.5L288.5 522.5L288.5 524.5L289.5 526.5L290.5 528.5L291.5 528.5L292.5 528.5L294.5 528.5L295.5 526.5L295.5 524.5L295.5 522.5L295.5 520.5L294.5 518.5L292.5 518.5L291.5 518.5M305.5 518.5L300.5 528.5M298.5 518.5L305.5 518.5M363.5 505.5L362.5 505.5L361.5 507.5L360.5 509.5L360.5 511.5L361.5 513.5L362.5 515.5L363.5 515.5L364.5 515.5L366.5 515.5L367.5 513.5L367.5 511.5L367.5 509.5L367.5 507.5L366.5 505.5L364.5 505.5L363.5 505.5M373.5 505.5L371.5 505.5L371.5 506.5L371.5 507.5L371.5 508.5L372.5 509.5L374.5 509.5L376.5 510.5L377.5 511.5L377.5 512.5L377.5 513.5L377.5 514.5L376.5 515.5L375.5 515.5L373.5 515.5L371.5 515.5L371.5 514.5L370.5 513.5L370.5 512.5L371.5 511.5L372.5 510.5L373.5 509.5L375.5 509.5L376.5 508.5L377.5 507.5L377.5 506.5L376.5 505.5L375.5 505.5L373.5 505.5M363.5 520.5L364.5 519.5L365.5 518.5L365.5 528.5M373.5 520.5L374.5 519.5L375.5 518.5L375.5 528.5M433.5 507.5L434.5 506.5L436.5 505.5L436.5 515.5M442.5 507.5L443.5 506.5L443.5 505.5L444.5 505.5L446.5 505.5L447.5 505.5L448.5 506.5L448.5 507.5L448.5 508.5L448.5 509.5L447.5 510.5L442.5 515.5L449.5 515.5M433.5 520.5L434.5 519.5L436.5 518.5L436.5 528.5M448.5 518.5L443.5 518.5L442.5 522.5L443.5 522.5L444.5 521.5L446.5 521.5L447.5 522.5L448.5 523.5L449.5 524.5L449.5 525.5L448.5 527.5L447.5 528.5L446.5 528.5L444.5 528.5L443.5 528.5L442.5 527.5L442.5 526.5M505.5 507.5L506.5 506.5L508.5 505.5L508.5 515.5M520.5 506.5L520.5 505.5L518.5 505.5L517.5 505.5L516.5 505.5L515.5 507.5L514.5 509.5L514.5 512.5L515.5 514.5L516.5 515.5L517.5 515.5L518.5 515.5L519.5 515.5L520.5 514.5L521.5 512.5L520.5 510.5L519.5 509.5L518.5 509.5L517.5 509.5L516.5 509.5L515.5 510.5L514.5 512.5M506.5 520.5L507.5 519.5L508.5 518.5L508.5 528.5M521.5 521.5L520.5 523.5L519.5 524.5L518.5 524.5L517.5 524.5L516.5 524.5L515.5 523.5L514.5 521.5L515.5 519.5L516.5 518.5L517.5 518.5L518.5 518.5L519.5 518.5L520.5 519.5L521.5 521.5L521.5 524.5L520.5 526.5L519.5 528.5L518.5 528.5L517.5 528.5L515.5 528.5L515.5 527.5M577.5 507.5L577.5 506.5L578.5 505.5L579.5 505.5L581.5 505.5L582.5 505.5L582.5 506.5L583.5 507.5L583.5 508.5L582.5 509.5L581.5 510.5L576.5 515.5L583.5 515.5M589.5 505.5L588.5 505.5L587.5 507.5L586.5 509.5L586.5 511.5L587.5 513.5L588.5 515.5L589.5 515.5L590.5 515.5L592.5 515.5L593.5 513.5L593.5 511.5L593.5 509.5L593.5 507.5L592.5 505.5L590.5 505.5L589.5 505.5M577.5 520.5L577.5 519.5L578.5 518.5L579.5 518.5L581.5 518.5L582.5 518.5L582.5 519.5L583.5 520.5L583.5 521.5L582.5 522.5L581.5 523.5L576.5 528.5L583.5 528.5M587.5 518.5L593.5 518.5L590.5 522.5L591.5 522.5L592.5 522.5L593.5 523.5L593.5 524.5L593.5 525.5L593.5 527.5L592.5 528.5L590.5 528.5L589.5 528.5L587.5 528.5L587.5 527.5L586.5 526.5M604.5 507.5L605.5 507.5L606.5 505.5L606.5 515.5M617.5 505.5L613.5 515.5M611.5 505.5L617.5 505.5M620.5 514.5L620.5 515.5L621.5 514.5L620.5 514.5M626.5 505.5L625.5 506.5L624.5 507.5L624.5 509.5L624.5 511.5L624.5 513.5L625.5 514.5L626.5 515.5L627.5 515.5L628.5 514.5L629.5 513.5L630.5 511.5L630.5 509.5L629.5 507.5L628.5 506.5L627.5 505.5L626.5 505.5M633.5 505.5L638.5 505.5L635.5 509.5L636.5 509.5L637.5 509.5L638.5 510.5L638.5 511.5L638.5 512.5L638.5 513.5L637.5 514.5L636.5 515.5L634.5 515.5L633.5 514.5L632.5 513.5M641.5 511.5L649.5 511.5M653.5 507.5L654.5 507.5L655.5 505.5L655.5 515.5M662.5 505.5L661.5 506.5L661.5 507.5L661.5 508.5L662.5 509.5L664.5 509.5L665.5 510.5L666.5 511.5L666.5 512.5L666.5 513.5L666.5 514.5L665.5 514.5L664.5 515.5L662.5 515.5L661.5 514.5L660.5 513.5L660.5 512.5L661.5 511.5L661.5 510.5L663.5 509.5L664.5 509.5L665.5 508.5L666.5 508.5L666.5 507.5L665.5 506.5L664.5 505.5L662.5 505.5M670.5 514.5L669.5 514.5L670.5 515.5L670.5 514.5M675.5 505.5L674.5 506.5L673.5 507.5L673.5 509.5L673.5 511.5L673.5 513.5L674.5 514.5L675.5 515.5L676.5 515.5L678.5 514.5L678.5 513.5L679.5 511.5L679.5 509.5L678.5 507.5L678.5 506.5L676.5 505.5L675.5 505.5M682.5 505.5L687.5 505.5L684.5 509.5L686.5 509.5L687.5 510.5L687.5 511.5L687.5 512.5L687.5 513.5L686.5 514.5L685.5 515.5L684.5 515.5L682.5 514.5L681.5 513.5M691.5 514.5L690.5 514.5L691.5 515.5L691.5 514.5M695.5 508.5L695.5 507.5L695.5 506.5L696.5 505.5L698.5 505.5L699.5 506.5L700.5 507.5L700.5 508.5L699.5 509.5L698.5 510.5L694.5 515.5L700.5 515.5M705.5 505.5L704.5 506.5L703.5 507.5L703.5 509.5L703.5 511.5L703.5 513.5L704.5 514.5L705.5 515.5L706.5 515.5L707.5 514.5L708.5 513.5L709.5 511.5L709.5 509.5L708.5 507.5L707.5 506.5L706.5 505.5L705.5 505.5M712.5 508.5L712.5 507.5L712.5 506.5L713.5 505.5L715.5 505.5L716.5 506.5L717.5 507.5L717.5 508.5L716.5 509.5L715.5 510.5L711.5 515.5L717.5 515.5M725.5 507.5L725.5 506.5L723.5 505.5L721.5 506.5L720.5 507.5L720.5 509.5L720.5 512.5L720.5 513.5L721.5 514.5L723.5 515.5L724.5 514.5L725.5 513.5L726.5 512.5L725.5 510.5L724.5 509.5L723.5 509.5L721.5 509.5L720.5 510.5L720.5 512.5M604.5 521.5L605.5 520.5L606.5 519.5L606.5 528.5M617.5 519.5L613.5 528.5M611.5 519.5L617.5 519.5M620.5 527.5L620.5 528.5L621.5 528.5L620.5 527.5M626.5 519.5L625.5 519.5L624.5 521.5L624.5 523.5L624.5 524.5L624.5 526.5L625.5 528.5L626.5 528.5L627.5 528.5L628.5 528.5L629.5 526.5L630.5 524.5L630.5 523.5L629.5 521.5L628.5 519.5L627.5 519.5L626.5 519.5M633.5 519.5L638.5 519.5L635.5 522.5L636.5 522.5L637.5 523.5L638.5 523.5L638.5 525.5L638.5 526.5L638.5 527.5L637.5 528.5L636.5 528.5L634.5 528.5L633.5 528.5L633.5 527.5L632.5 526.5M641.5 524.5L649.5 524.5M653.5 521.5L654.5 520.5L655.5 519.5L655.5 528.5M662.5 519.5L661.5 519.5L661.5 520.5L661.5 521.5L661.5 522.5L662.5 522.5L664.5 523.5L665.5 523.5L666.5 524.5L666.5 525.5L666.5 526.5L666.5 527.5L665.5 528.5L664.5 528.5L662.5 528.5L661.5 528.5L661.5 527.5L660.5 526.5L660.5 525.5L661.5 524.5L661.5 523.5L663.5 523.5L664.5 522.5L665.5 522.5L666.5 521.5L666.5 520.5L665.5 519.5L664.5 519.5L662.5 519.5M670.5 527.5L669.5 528.5L670.5 528.5L670.5 527.5M675.5 519.5L674.5 519.5L673.5 521.5L673.5 523.5L673.5 524.5L673.5 526.5L674.5 528.5L675.5 528.5L676.5 528.5L678.5 528.5L678.5 526.5L679.5 524.5L679.5 523.5L678.5 521.5L678.5 519.5L676.5 519.5L675.5 519.5M682.5 519.5L687.5 519.5L684.5 522.5L686.5 522.5L686.5 523.5L687.5 523.5L687.5 525.5L687.5 526.5L687.5 527.5L686.5 528.5L685.5 528.5L684.5 528.5L682.5 528.5L682.5 527.5L681.5 526.5M691.5 527.5L690.5 528.5L691.5 528.5L691.5 527.5M695.5 521.5L695.5 520.5L695.5 519.5L696.5 519.5L698.5 519.5L699.5 519.5L699.5 520.5L700.5 521.5L699.5 522.5L698.5 524.5L694.5 528.5L700.5 528.5M705.5 519.5L704.5 519.5L703.5 521.5L703.5 523.5L703.5 524.5L703.5 526.5L704.5 528.5L705.5 528.5L706.5 528.5L707.5 528.5L708.5 526.5L709.5 524.5L709.5 523.5L708.5 521.5L707.5 519.5L706.5 519.5L705.5 519.5M712.5 521.5L712.5 520.5L712.5 519.5L713.5 519.5L715.5 519.5L716.5 519.5L716.5 520.5L717.5 521.5L716.5 522.5L715.5 524.5L711.5 528.5L717.5 528.5M725.5 520.5L725.5 519.5L723.5 519.5L721.5 519.5L720.5 521.5L720.5 523.5L720.5 525.5L720.5 527.5L721.5 528.5L723.5 528.5L724.5 528.5L725.5 527.5L726.5 526.5L726.5 525.5L725.5 524.5L724.5 523.5L723.5 522.5L721.5 523.5L720.5 524.5L720.5 525.5M81.5 541.5L81.5 552.5M81.5 541.5L85.5 541.5L86.5 542.5L87.5 542.5L87.5 543.5L87.5 544.5L87.5 545.5L86.5 546.5L85.5 546.5L81.5 546.5M84.5 546.5L87.5 552.5M90.5 548.5L96.5 548.5L96.5 547.5L95.5 546.5L95.5 545.5L94.5 545.5L92.5 545.5L91.5 545.5L91.5 546.5L90.5 548.5L90.5 549.5L91.5 550.5L91.5 551.5L92.5 552.5L94.5 552.5L95.5 551.5L96.5 550.5M104.5 545.5L104.5 552.5M104.5 546.5L103.5 545.5L102.5 545.5L101.5 545.5L100.5 545.5L99.5 546.5L98.5 548.5L98.5 549.5L99.5 550.5L100.5 551.5L101.5 552.5L102.5 552.5L103.5 551.5L104.5 550.5M108.5 541.5L108.5 552.5M111.5 547.5L120.5 547.5M124.5 541.5L124.5 550.5L124.5 551.5L125.5 552.5L126.5 552.5M123.5 545.5L126.5 545.5M129.5 541.5L129.5 542.5L130.5 541.5L129.5 541.5M129.5 545.5L129.5 552.5M133.5 545.5L133.5 552.5M133.5 547.5L134.5 545.5L135.5 545.5L136.5 545.5L137.5 545.5L138.5 547.5L138.5 552.5M138.5 547.5L139.5 545.5L140.5 545.5L142.5 545.5L143.5 545.5L143.5 547.5L143.5 552.5M146.5 548.5L152.5 548.5L152.5 547.5L151.5 546.5L151.5 545.5L150.5 545.5L149.5 545.5L148.5 545.5L147.5 546.5L146.5 548.5L146.5 549.5L147.5 550.5L148.5 551.5L149.5 552.5L150.5 552.5L151.5 551.5L152.5 550.5M162.5 541.5L162.5 552.5M162.5 541.5L166.5 541.5L167.5 542.5L168.5 543.5L168.5 544.5L169.5 545.5L169.5 548.5L168.5 549.5L168.5 550.5L167.5 551.5L166.5 552.5L162.5 552.5M178.5 543.5L177.5 542.5L176.5 541.5L174.5 541.5L173.5 542.5L172.5 543.5L172.5 544.5L172.5 545.5L173.5 545.5L174.5 546.5L176.5 547.5L177.5 547.5L178.5 548.5L178.5 549.5L178.5 550.5L177.5 551.5L176.5 552.5L174.5 552.5L173.5 551.5L172.5 550.5M188.5 544.5L188.5 543.5L187.5 542.5L186.5 541.5L184.5 541.5L183.5 542.5L182.5 543.5L181.5 544.5L181.5 545.5L181.5 548.5L181.5 549.5L182.5 550.5L183.5 551.5L184.5 552.5L186.5 552.5L187.5 551.5L188.5 550.5L188.5 549.5M194.5 541.5L193.5 542.5L192.5 543.5L191.5 544.5L191.5 545.5L191.5 548.5L191.5 549.5L192.5 550.5L193.5 551.5L194.5 552.5L195.5 552.5L196.5 551.5L197.5 550.5L198.5 549.5L198.5 548.5L198.5 545.5L198.5 544.5L197.5 543.5L196.5 542.5L195.5 541.5L194.5 541.5M200.5 541.5L204.5 552.5M207.5 541.5L204.5 552.5M210.5 541.5L210.5 552.5M210.5 541.5L214.5 541.5L215.5 542.5L216.5 542.5L216.5 543.5L216.5 544.5L216.5 545.5L215.5 546.5L214.5 546.5L210.5 546.5M213.5 546.5L216.5 552.5M227.5 545.5L227.5 552.5M227.5 547.5L228.5 545.5L229.5 545.5L231.5 545.5L232.5 545.5L232.5 547.5L232.5 552.5M232.5 547.5L233.5 545.5L234.5 545.5L236.5 545.5L237.5 545.5L237.5 547.5L237.5 552.5M246.5 545.5L246.5 552.5M246.5 546.5L245.5 545.5L244.5 545.5L243.5 545.5L242.5 545.5L241.5 546.5L240.5 548.5L240.5 549.5L241.5 550.5L242.5 551.5L243.5 552.5L244.5 552.5L245.5 551.5L246.5 550.5M255.5 545.5L255.5 553.5L254.5 554.5L254.5 555.5L253.5 555.5L252.5 555.5L251.5 555.5M255.5 546.5L254.5 545.5L253.5 545.5L252.5 545.5L251.5 545.5L250.5 546.5L249.5 548.5L249.5 549.5L250.5 550.5L251.5 551.5L252.5 552.5L253.5 552.5L254.5 551.5L255.5 550.5M258.5 545.5L258.5 552.5M258.5 547.5L260.5 545.5L261.5 545.5L262.5 545.5L263.5 545.5L264.5 547.5L264.5 552.5M267.5 548.5L272.5 548.5L272.5 547.5L272.5 546.5L271.5 545.5L269.5 545.5L268.5 545.5L267.5 546.5L267.5 548.5L267.5 549.5L267.5 550.5L268.5 551.5L269.5 552.5L271.5 552.5L271.5 551.5L272.5 550.5M276.5 541.5L276.5 550.5L277.5 551.5L278.5 552.5M275.5 545.5L278.5 545.5M281.5 541.5L281.5 542.5L282.5 541.5L281.5 541.5M281.5 545.5L281.5 552.5M290.5 546.5L289.5 545.5L288.5 545.5L287.5 545.5L286.5 545.5L285.5 546.5L284.5 548.5L284.5 549.5L285.5 550.5L286.5 551.5L287.5 552.5L288.5 552.5L289.5 551.5L290.5 550.5M304.5 541.5L303.5 541.5L302.5 542.5L301.5 543.5L301.5 552.5M300.5 545.5L303.5 545.5M306.5 541.5L306.5 542.5L307.5 541.5L306.5 541.5M306.5 545.5L306.5 552.5M310.5 548.5L315.5 548.5L315.5 547.5L315.5 546.5L314.5 545.5L313.5 545.5L312.5 545.5L311.5 545.5L310.5 546.5L310.5 548.5L310.5 549.5L310.5 550.5L311.5 551.5L312.5 552.5L313.5 552.5L314.5 551.5L315.5 550.5M318.5 541.5L318.5 552.5M327.5 541.5L327.5 552.5M327.5 546.5L326.5 545.5L325.5 545.5L324.5 545.5L323.5 545.5L322.5 546.5L322.5 548.5L322.5 549.5L322.5 550.5L323.5 551.5L324.5 552.5L325.5 552.5L326.5 551.5L327.5 550.5M343.5 545.5L343.5 552.5M343.5 546.5L342.5 545.5L340.5 545.5L339.5 545.5L338.5 546.5L338.5 548.5L338.5 549.5L338.5 550.5L339.5 551.5L340.5 552.5L342.5 552.5L342.5 551.5L343.5 550.5M347.5 545.5L347.5 552.5M347.5 547.5L349.5 545.5L351.5 545.5L352.5 545.5L352.5 547.5L352.5 552.5M361.5 541.5L361.5 552.5M361.5 546.5L360.5 545.5L359.5 545.5L358.5 545.5L357.5 545.5L356.5 546.5L355.5 548.5L355.5 549.5L356.5 550.5L357.5 551.5L358.5 552.5L359.5 552.5L360.5 551.5L361.5 550.5M377.5 546.5L376.5 545.5L375.5 545.5L374.5 545.5L372.5 545.5L372.5 546.5L372.5 547.5L373.5 548.5L375.5 548.5L376.5 549.5L377.5 550.5L376.5 551.5L375.5 552.5L374.5 552.5L372.5 551.5L372.5 550.5M382.5 545.5L381.5 545.5L380.5 546.5L380.5 548.5L380.5 549.5L380.5 550.5L381.5 551.5L382.5 552.5L383.5 552.5L384.5 551.5L385.5 550.5L386.5 549.5L386.5 548.5L385.5 546.5L384.5 545.5L383.5 545.5L382.5 545.5M389.5 541.5L389.5 552.5M398.5 545.5L398.5 552.5M398.5 546.5L397.5 545.5L396.5 545.5L394.5 545.5L393.5 546.5L392.5 548.5L392.5 549.5L393.5 550.5L394.5 551.5L394.5 552.5L396.5 552.5L397.5 551.5L398.5 550.5M401.5 545.5L401.5 552.5M401.5 548.5L402.5 546.5L403.5 545.5L404.5 545.5L405.5 545.5M414.5 545.5L416.5 552.5M418.5 545.5L416.5 552.5M418.5 545.5L420.5 552.5M422.5 545.5L420.5 552.5M425.5 541.5L425.5 542.5L426.5 541.5L425.5 541.5M425.5 545.5L425.5 552.5M429.5 545.5L429.5 552.5M429.5 547.5L430.5 545.5L431.5 545.5L432.5 545.5L433.5 545.5L434.5 547.5L434.5 552.5M443.5 541.5L443.5 552.5M443.5 546.5L442.5 545.5L441.5 545.5L439.5 545.5L438.5 546.5L437.5 548.5L437.5 549.5L438.5 550.5L439.5 551.5L439.5 552.5L441.5 552.5L442.5 551.5L443.5 550.5M458.5 546.5L458.5 545.5L457.5 545.5L455.5 545.5L454.5 545.5L453.5 546.5L454.5 547.5L455.5 548.5L457.5 548.5L458.5 549.5L458.5 550.5L458.5 551.5L457.5 552.5L455.5 552.5L454.5 551.5L453.5 550.5M462.5 545.5L462.5 555.5M462.5 546.5L463.5 545.5L464.5 545.5L465.5 545.5L466.5 545.5L467.5 546.5L467.5 548.5L467.5 549.5L467.5 550.5L466.5 551.5L465.5 552.5L464.5 552.5L463.5 551.5L462.5 550.5M470.5 548.5L476.5 548.5L476.5 547.5L475.5 546.5L475.5 545.5L474.5 545.5L472.5 545.5L471.5 545.5L471.5 546.5L470.5 548.5L470.5 549.5L471.5 550.5L471.5 551.5L472.5 552.5L474.5 552.5L475.5 551.5L476.5 550.5M478.5 548.5L484.5 548.5L484.5 547.5L484.5 546.5L483.5 545.5L482.5 545.5L481.5 545.5L480.5 545.5L479.5 546.5L478.5 548.5L478.5 549.5L479.5 550.5L480.5 551.5L481.5 552.5L482.5 552.5L483.5 551.5L484.5 550.5M492.5 541.5L492.5 552.5M492.5 546.5L491.5 545.5L490.5 545.5L489.5 545.5L488.5 545.5L487.5 546.5L487.5 548.5L487.5 549.5L487.5 550.5L488.5 551.5L489.5 552.5L490.5 552.5L491.5 551.5L492.5 550.5M509.5 545.5L509.5 552.5M509.5 546.5L508.5 545.5L507.5 545.5L505.5 545.5L504.5 545.5L503.5 546.5L503.5 548.5L503.5 549.5L503.5 550.5L504.5 551.5L505.5 552.5L507.5 552.5L508.5 551.5L509.5 550.5M512.5 545.5L512.5 552.5M512.5 548.5L513.5 546.5L514.5 545.5L515.5 545.5L516.5 545.5M518.5 548.5L523.5 548.5L523.5 547.5L523.5 546.5L522.5 545.5L520.5 545.5L519.5 545.5L518.5 546.5L518.5 548.5L518.5 549.5L518.5 550.5L519.5 551.5L520.5 552.5L522.5 552.5L522.5 551.5L523.5 550.5M539.5 546.5L538.5 545.5L537.5 545.5L535.5 545.5L534.5 545.5L534.5 546.5L534.5 547.5L535.5 548.5L537.5 548.5L538.5 549.5L539.5 550.5L538.5 551.5L537.5 552.5L535.5 552.5L534.5 551.5L534.5 550.5M542.5 541.5L542.5 552.5M542.5 547.5L543.5 545.5L544.5 545.5L546.5 545.5L547.5 545.5L547.5 547.5L547.5 552.5M550.5 541.5L551.5 542.5L551.5 541.5L550.5 541.5M551.5 545.5L551.5 552.5M557.5 541.5L556.5 541.5L555.5 542.5L555.5 543.5L555.5 552.5M554.5 545.5L557.5 545.5M561.5 541.5L561.5 550.5L561.5 551.5L562.5 552.5L563.5 552.5M559.5 545.5L562.5 545.5M565.5 548.5L571.5 548.5L571.5 547.5L570.5 546.5L570.5 545.5L569.5 545.5L568.5 545.5L567.5 545.5L566.5 546.5L565.5 548.5L565.5 549.5L566.5 550.5L567.5 551.5L568.5 552.5L569.5 552.5L570.5 551.5L571.5 550.5M579.5 541.5L579.5 552.5M579.5 546.5L578.5 545.5L577.5 545.5L576.5 545.5L575.5 545.5L574.5 546.5L574.5 548.5L574.5 549.5L574.5 550.5L575.5 551.5L576.5 552.5L577.5 552.5L578.5 551.5L579.5 550.5M84.5 558.5L83.5 558.5L82.5 559.5L82.5 560.5L82.5 569.5M81.5 562.5L84.5 562.5M89.5 562.5L88.5 562.5L87.5 563.5L87.5 565.5L87.5 566.5L87.5 567.5L88.5 568.5L89.5 569.5L90.5 569.5L91.5 568.5L92.5 567.5L93.5 566.5L93.5 565.5L92.5 563.5L91.5 562.5L90.5 562.5L89.5 562.5M96.5 562.5L96.5 569.5M96.5 565.5L96.5 563.5L97.5 562.5L98.5 562.5L99.5 562.5M101.5 562.5L103.5 569.5M105.5 562.5L103.5 569.5M105.5 562.5L107.5 569.5M109.5 562.5L107.5 569.5M117.5 562.5L117.5 569.5M117.5 563.5L116.5 562.5L115.5 562.5L114.5 562.5L113.5 562.5L112.5 563.5L112.5 565.5L112.5 566.5L112.5 567.5L113.5 568.5L114.5 569.5L115.5 569.5L116.5 568.5L117.5 567.5M121.5 562.5L121.5 569.5M121.5 565.5L121.5 563.5L122.5 562.5L123.5 562.5L124.5 562.5M132.5 558.5L132.5 569.5M132.5 563.5L131.5 562.5L130.5 562.5L129.5 562.5L128.5 562.5L127.5 563.5L126.5 565.5L126.5 566.5L127.5 567.5L128.5 568.5L129.5 569.5L130.5 569.5L131.5 568.5L132.5 567.5M137.5 568.5L136.5 569.5L136.5 568.5L137.5 568.5L137.5 569.5L136.5 570.5L136.5 571.5M153.5 562.5L153.5 569.5M153.5 563.5L152.5 562.5L151.5 562.5L149.5 562.5L148.5 563.5L147.5 565.5L147.5 566.5L148.5 567.5L149.5 568.5L149.5 569.5L151.5 569.5L152.5 568.5L153.5 567.5M161.5 563.5L161.5 562.5L160.5 562.5L158.5 562.5L157.5 562.5L156.5 563.5L156.5 565.5L156.5 566.5L156.5 567.5L157.5 568.5L158.5 569.5L160.5 569.5L161.5 568.5L161.5 567.5M170.5 563.5L169.5 562.5L168.5 562.5L167.5 562.5L166.5 562.5L165.5 563.5L164.5 565.5L164.5 566.5L165.5 567.5L166.5 568.5L167.5 569.5L168.5 569.5L169.5 568.5L170.5 567.5M175.5 562.5L174.5 562.5L173.5 563.5L173.5 565.5L173.5 566.5L173.5 567.5L174.5 568.5L175.5 569.5L176.5 569.5L177.5 568.5L178.5 567.5L179.5 566.5L179.5 565.5L178.5 563.5L177.5 562.5L176.5 562.5L175.5 562.5M182.5 562.5L182.5 567.5L182.5 568.5L183.5 569.5L185.5 569.5L186.5 568.5L187.5 567.5M187.5 562.5L187.5 569.5M191.5 562.5L191.5 569.5M191.5 564.5L192.5 562.5L193.5 562.5L194.5 562.5L195.5 562.5L196.5 564.5L196.5 569.5M200.5 558.5L200.5 567.5L200.5 568.5L201.5 569.5L202.5 569.5M199.5 562.5L202.5 562.5M205.5 558.5L205.5 559.5L205.5 558.5M205.5 562.5L205.5 569.5M209.5 562.5L209.5 569.5M209.5 564.5L210.5 562.5L211.5 562.5L212.5 562.5L213.5 562.5L214.5 564.5L214.5 569.5M223.5 562.5L223.5 570.5L222.5 571.5L222.5 572.5L221.5 572.5L219.5 572.5L218.5 572.5M223.5 563.5L222.5 562.5L221.5 562.5L219.5 562.5L218.5 562.5L217.5 563.5L217.5 565.5L217.5 566.5L217.5 567.5L218.5 568.5L219.5 569.5L221.5 569.5L222.5 568.5L223.5 567.5M236.5 558.5L235.5 559.5L234.5 560.5L234.5 569.5M233.5 562.5L236.5 562.5M241.5 562.5L240.5 562.5L239.5 563.5L239.5 565.5L239.5 566.5L239.5 567.5L240.5 568.5L241.5 569.5L242.5 569.5L243.5 568.5L244.5 567.5L245.5 566.5L245.5 565.5L244.5 563.5L243.5 562.5L242.5 562.5L241.5 562.5M248.5 562.5L248.5 569.5M248.5 565.5L249.5 563.5L249.5 562.5L250.5 562.5L252.5 562.5M261.5 558.5L261.5 569.5M261.5 569.5L267.5 569.5M270.5 560.5L271.5 560.5L273.5 558.5L273.5 569.5M279.5 564.5L287.5 564.5M291.5 558.5L291.5 569.5M291.5 558.5L297.5 558.5M291.5 563.5L294.5 563.5M291.5 569.5L297.5 569.5M305.5 562.5L305.5 569.5M305.5 563.5L304.5 562.5L303.5 562.5L301.5 562.5L300.5 562.5L299.5 563.5L299.5 565.5L299.5 566.5L299.5 567.5L300.5 568.5L301.5 569.5L303.5 569.5L304.5 568.5L305.5 567.5M308.5 562.5L308.5 569.5M308.5 565.5L309.5 563.5L310.5 562.5L311.5 562.5L312.5 562.5M315.5 558.5L315.5 567.5L315.5 568.5L316.5 569.5L317.5 569.5M313.5 562.5L317.5 562.5M320.5 558.5L320.5 569.5M320.5 564.5L321.5 562.5L322.5 562.5L323.5 562.5L324.5 562.5L325.5 564.5L325.5 569.5M336.5 562.5L336.5 572.5M336.5 563.5L337.5 562.5L338.5 562.5L339.5 562.5L340.5 562.5L341.5 563.5L342.5 565.5L342.5 566.5L341.5 567.5L340.5 568.5L339.5 569.5L338.5 569.5L337.5 568.5L336.5 567.5M345.5 562.5L345.5 569.5M345.5 565.5L345.5 563.5L346.5 562.5L347.5 562.5L348.5 562.5M353.5 562.5L352.5 562.5L351.5 563.5L350.5 565.5L350.5 566.5L351.5 567.5L352.5 568.5L353.5 569.5L354.5 569.5L355.5 568.5L356.5 567.5L356.5 566.5L356.5 565.5L356.5 563.5L355.5 562.5L354.5 562.5L353.5 562.5M360.5 562.5L360.5 572.5M360.5 563.5L361.5 562.5L363.5 562.5L364.5 562.5L365.5 563.5L365.5 565.5L365.5 566.5L365.5 567.5L364.5 568.5L363.5 569.5L361.5 569.5L361.5 568.5L360.5 567.5M373.5 562.5L373.5 569.5M373.5 563.5L373.5 562.5L372.5 562.5L370.5 562.5L369.5 562.5L368.5 563.5L368.5 565.5L368.5 566.5L368.5 567.5L369.5 568.5L370.5 569.5L372.5 569.5L373.5 568.5L373.5 567.5M382.5 562.5L382.5 570.5L382.5 571.5L381.5 572.5L380.5 572.5L379.5 572.5L378.5 572.5M382.5 563.5L381.5 562.5L380.5 562.5L379.5 562.5L378.5 562.5L377.5 563.5L377.5 565.5L377.5 566.5L377.5 567.5L378.5 568.5L379.5 569.5L380.5 569.5L381.5 568.5L382.5 567.5M391.5 562.5L391.5 569.5M391.5 563.5L390.5 562.5L389.5 562.5L388.5 562.5L387.5 562.5L386.5 563.5L386.5 565.5L386.5 566.5L386.5 567.5L387.5 568.5L388.5 569.5L389.5 569.5L390.5 568.5L391.5 567.5M395.5 558.5L395.5 567.5L396.5 568.5L397.5 569.5L398.5 569.5M394.5 562.5L397.5 562.5M400.5 558.5L400.5 559.5L401.5 558.5L400.5 558.5M400.5 562.5L400.5 569.5M406.5 562.5L405.5 562.5L404.5 563.5L404.5 565.5L404.5 566.5L404.5 567.5L405.5 568.5L406.5 569.5L407.5 569.5L408.5 568.5L409.5 567.5L410.5 566.5L410.5 565.5L409.5 563.5L408.5 562.5L407.5 562.5L406.5 562.5M413.5 562.5L413.5 569.5M413.5 564.5L414.5 562.5L415.5 562.5L417.5 562.5L418.5 564.5L418.5 569.5M166.5 587.5L165.5 586.5L163.5 585.5L161.5 585.5L160.5 586.5L159.5 587.5L159.5 588.5L159.5 589.5L160.5 589.5L161.5 590.5L164.5 591.5L165.5 591.5L165.5 592.5L166.5 593.5L166.5 594.5L165.5 595.5L163.5 596.5L161.5 596.5L160.5 595.5L159.5 594.5M169.5 589.5L169.5 600.5M169.5 590.5L170.5 589.5L171.5 589.5L173.5 589.5L174.5 589.5L175.5 590.5L175.5 592.5L175.5 593.5L175.5 594.5L174.5 595.5L173.5 596.5L171.5 596.5L170.5 595.5L169.5 594.5M184.5 589.5L184.5 596.5M184.5 590.5L183.5 589.5L182.5 589.5L181.5 589.5L180.5 589.5L179.5 590.5L178.5 592.5L178.5 593.5L179.5 594.5L180.5 595.5L181.5 596.5L182.5 596.5L183.5 595.5L184.5 594.5M194.5 590.5L193.5 589.5L192.5 589.5L191.5 589.5L190.5 589.5L189.5 590.5L188.5 592.5L188.5 593.5L189.5 594.5L190.5 595.5L191.5 596.5L192.5 596.5L193.5 595.5L194.5 594.5M197.5 592.5L203.5 592.5L203.5 591.5L203.5 590.5L202.5 589.5L201.5 589.5L200.5 589.5L199.5 589.5L198.5 590.5L197.5 592.5L197.5 593.5L198.5 594.5L199.5 595.5L200.5 596.5L201.5 596.5L202.5 595.5L203.5 594.5M215.5 585.5L215.5 596.5M215.5 585.5L219.5 585.5L221.5 586.5L222.5 587.5L222.5 588.5L221.5 589.5L221.5 590.5L219.5 590.5L215.5 590.5M218.5 590.5L222.5 596.5M225.5 592.5L231.5 592.5L231.5 591.5L230.5 590.5L230.5 589.5L229.5 589.5L227.5 589.5L226.5 589.5L225.5 590.5L225.5 592.5L225.5 593.5L225.5 594.5L226.5 595.5L227.5 596.5L229.5 596.5L230.5 595.5L231.5 594.5M240.5 590.5L239.5 589.5L238.5 589.5L236.5 589.5L235.5 589.5L234.5 590.5L235.5 591.5L236.5 592.5L238.5 592.5L239.5 593.5L240.5 594.5L239.5 595.5L238.5 596.5L236.5 596.5L235.5 595.5L234.5 594.5M243.5 592.5L249.5 592.5L249.5 591.5L248.5 590.5L248.5 589.5L247.5 589.5L245.5 589.5L244.5 589.5L243.5 590.5L243.5 592.5L243.5 593.5L243.5 594.5L244.5 595.5L245.5 596.5L247.5 596.5L248.5 595.5L249.5 594.5M258.5 589.5L258.5 596.5M258.5 590.5L257.5 589.5L256.5 589.5L254.5 589.5L253.5 589.5L252.5 590.5L252.5 592.5L252.5 593.5L252.5 594.5L253.5 595.5L254.5 596.5L256.5 596.5L257.5 595.5L258.5 594.5M262.5 589.5L262.5 596.5M262.5 592.5L262.5 590.5L263.5 589.5L264.5 589.5L266.5 589.5M274.5 590.5L273.5 589.5L272.5 589.5L270.5 589.5L269.5 589.5L268.5 590.5L268.5 592.5L268.5 593.5L268.5 594.5L269.5 595.5L270.5 596.5L272.5 596.5L273.5 595.5L274.5 594.5M277.5 585.5L277.5 596.5M277.5 591.5L279.5 589.5L280.5 589.5L282.5 589.5L283.5 589.5L283.5 591.5L283.5 596.5M295.5 585.5L295.5 596.5M299.5 589.5L299.5 596.5M299.5 591.5L301.5 589.5L302.5 589.5L303.5 589.5L304.5 589.5L305.5 591.5L305.5 596.5M314.5 590.5L313.5 589.5L312.5 589.5L310.5 589.5L309.5 589.5L308.5 590.5L309.5 591.5L310.5 592.5L312.5 592.5L313.5 593.5L314.5 594.5L313.5 595.5L312.5 596.5L310.5 596.5L309.5 595.5L308.5 594.5M318.5 585.5L318.5 594.5L318.5 595.5L319.5 596.5L320.5 596.5M316.5 589.5L320.5 589.5M323.5 585.5L323.5 586.5L324.5 585.5L323.5 585.5M323.5 589.5L323.5 596.5M328.5 585.5L328.5 594.5L329.5 595.5L330.5 596.5L331.5 596.5M326.5 589.5L330.5 589.5M334.5 589.5L334.5 594.5L334.5 595.5L335.5 596.5L337.5 596.5L338.5 595.5L339.5 594.5M339.5 589.5L339.5 596.5M344.5 585.5L344.5 594.5L344.5 595.5L345.5 596.5L346.5 596.5M342.5 589.5L346.5 589.5M349.5 592.5L355.5 592.5L355.5 591.5L354.5 590.5L354.5 589.5L353.5 589.5L351.5 589.5L350.5 589.5L349.5 590.5L349.5 592.5L349.5 593.5L349.5 594.5L350.5 595.5L351.5 596.5L353.5 596.5L354.5 595.5L355.5 594.5M366.5 585.5L366.5 596.5M366.5 585.5L371.5 585.5L372.5 586.5L373.5 586.5L373.5 587.5L373.5 588.5L373.5 589.5L372.5 590.5L371.5 590.5L366.5 590.5M370.5 590.5L373.5 596.5M380.5 585.5L376.5 596.5M380.5 585.5L384.5 596.5M377.5 592.5L382.5 592.5M393.5 587.5L392.5 586.5L390.5 585.5L388.5 585.5L387.5 586.5L386.5 587.5L386.5 588.5L386.5 589.5L387.5 589.5L388.5 590.5L391.5 591.5L392.5 591.5L392.5 592.5L393.5 593.5L393.5 594.5L392.5 595.5L390.5 596.5L388.5 596.5L387.5 595.5L386.5 594.5M160.5 602.5L161.5 602.5L160.5 601.5L160.5 602.5M160.5 605.5L160.5 613.5M164.5 602.5L164.5 613.5M169.5 605.5L164.5 610.5M166.5 608.5L170.5 613.5M172.5 602.5L173.5 602.5L173.5 601.5L172.5 602.5M173.5 605.5L173.5 613.5M177.5 611.5L177.5 612.5L177.5 613.5L178.5 612.5L177.5 611.5M187.5 607.5L186.5 606.5L185.5 605.5L184.5 605.5L183.5 606.5L182.5 607.5L181.5 608.5L181.5 609.5L182.5 611.5L183.5 612.5L184.5 613.5L185.5 613.5L186.5 612.5L187.5 611.5M193.5 605.5L192.5 606.5L191.5 607.5L190.5 608.5L190.5 609.5L191.5 611.5L192.5 612.5L193.5 613.5L194.5 613.5L195.5 612.5L196.5 611.5L197.5 609.5L197.5 608.5L196.5 607.5L195.5 606.5L194.5 605.5L193.5 605.5M205.5 607.5L205.5 606.5L203.5 605.5L202.5 605.5L200.5 606.5L200.5 607.5L200.5 608.5L201.5 608.5L204.5 609.5L205.5 609.5L205.5 610.5L205.5 611.5L205.5 612.5L203.5 613.5L202.5 613.5L200.5 612.5L200.5 611.5M209.5 605.5L209.5 613.5M209.5 607.5L211.5 606.5L212.5 605.5L213.5 605.5L214.5 606.5L215.5 607.5L215.5 613.5M215.5 607.5L216.5 606.5L217.5 605.5L219.5 605.5L220.5 606.5L220.5 607.5L220.5 613.5M226.5 605.5L225.5 606.5L224.5 607.5L224.5 608.5L224.5 609.5L224.5 611.5L225.5 612.5L226.5 613.5L228.5 613.5L229.5 612.5L230.5 611.5L230.5 609.5L230.5 608.5L230.5 607.5L229.5 606.5L228.5 605.5L226.5 605.5M239.5 607.5L238.5 606.5L237.5 605.5L235.5 605.5L234.5 606.5L233.5 607.5L234.5 608.5L235.5 608.5L237.5 609.5L238.5 609.5L239.5 610.5L239.5 611.5L238.5 612.5L237.5 613.5L235.5 613.5L234.5 612.5L233.5 611.5M243.5 611.5L242.5 612.5L243.5 613.5L243.5 612.5L243.5 611.5M247.5 605.5L247.5 613.5M247.5 608.5L248.5 607.5L249.5 606.5L250.5 605.5L251.5 605.5M254.5 605.5L254.5 610.5L254.5 612.5L255.5 613.5L257.5 613.5L258.5 612.5L259.5 610.5M259.5 605.5L259.5 613.5M603.5 569.5L603.5 576.5L603.5 577.5L604.5 578.5L605.5 579.5L606.5 579.5L607.5 578.5L608.5 577.5L608.5 576.5L608.5 569.5M612.5 572.5L612.5 582.5M612.5 574.5L613.5 573.5L614.5 572.5L615.5 572.5L616.5 573.5L617.5 574.5L617.5 575.5L617.5 576.5L617.5 577.5L616.5 578.5L615.5 579.5L614.5 579.5L613.5 578.5L612.5 577.5M625.5 569.5L625.5 579.5M625.5 574.5L624.5 573.5L623.5 572.5L622.5 572.5L621.5 573.5L620.5 574.5L620.5 575.5L620.5 576.5L620.5 577.5L621.5 578.5L622.5 579.5L623.5 579.5L624.5 578.5L625.5 577.5M633.5 572.5L633.5 579.5M633.5 574.5L632.5 573.5L631.5 572.5L630.5 572.5L629.5 573.5L628.5 574.5L628.5 575.5L628.5 576.5L628.5 577.5L629.5 578.5L630.5 579.5L631.5 579.5L632.5 578.5L633.5 577.5M637.5 569.5L637.5 577.5L637.5 578.5L638.5 579.5L639.5 579.5M635.5 572.5L638.5 572.5M641.5 575.5L646.5 575.5L646.5 574.5L646.5 573.5L645.5 573.5L644.5 572.5L643.5 572.5L642.5 573.5L641.5 574.5L641.5 575.5L641.5 576.5L641.5 577.5L642.5 578.5L643.5 579.5L644.5 579.5L645.5 578.5L646.5 577.5M654.5 569.5L654.5 579.5M654.5 574.5L653.5 573.5L652.5 572.5L651.5 572.5L650.5 573.5L649.5 574.5L649.5 575.5L649.5 576.5L649.5 577.5L650.5 578.5L651.5 579.5L652.5 579.5L653.5 578.5L654.5 577.5M669.5 572.5L669.5 579.5M669.5 574.5L668.5 573.5L667.5 572.5L666.5 572.5L665.5 573.5L664.5 574.5L664.5 575.5L664.5 576.5L664.5 577.5L665.5 578.5L666.5 579.5L667.5 579.5L668.5 578.5L669.5 577.5M673.5 569.5L673.5 577.5L673.5 578.5L674.5 579.5L675.5 579.5M671.5 572.5L674.5 572.5M678.5 572.5L677.5 573.5L678.5 573.5L678.5 572.5M678.5 578.5L677.5 578.5L678.5 579.5L678.5 578.5M603.5 587.5L603.5 593.5L603.5 595.5L604.5 596.5L605.5 596.5L606.5 596.5L607.5 596.5L608.5 595.5L609.5 593.5L609.5 587.5M614.5 587.5L614.5 596.5M611.5 587.5L617.5 587.5M635.5 588.5L636.5 588.5L637.5 587.5L637.5 596.5M648.5 588.5L648.5 587.5L646.5 587.5L645.5 587.5L644.5 587.5L643.5 588.5L643.5 591.5L643.5 593.5L643.5 595.5L644.5 596.5L645.5 596.5L646.5 596.5L647.5 596.5L648.5 595.5L648.5 593.5L648.5 592.5L647.5 591.5L646.5 590.5L645.5 590.5L644.5 591.5L643.5 592.5L643.5 593.5M652.5 590.5L651.5 590.5L652.5 591.5L652.5 590.5M652.5 595.5L651.5 596.5L652.5 596.5L652.5 595.5M658.5 587.5L656.5 587.5L656.5 588.5L655.5 591.5L655.5 592.5L656.5 594.5L656.5 596.5L658.5 596.5L659.5 596.5L660.5 596.5L661.5 594.5L661.5 592.5L661.5 591.5L661.5 588.5L660.5 587.5L659.5 587.5L658.5 587.5M669.5 587.5L664.5 587.5L664.5 591.5L664.5 590.5L666.5 590.5L667.5 590.5L668.5 590.5L669.5 591.5L670.5 592.5L670.5 593.5L669.5 595.5L668.5 596.5L667.5 596.5L666.5 596.5L664.5 596.5L664.5 595.5L664.5 594.5M673.5 596.5L673.5 595.5L673.5 596.5L673.5 597.5L673.5 598.5M684.5 588.5L685.5 588.5L687.5 587.5L687.5 596.5M694.5 587.5L692.5 587.5L692.5 588.5L692.5 589.5L692.5 590.5L693.5 590.5L695.5 591.5L696.5 591.5L697.5 592.5L698.5 593.5L698.5 594.5L697.5 595.5L697.5 596.5L695.5 596.5L694.5 596.5L692.5 596.5L692.5 595.5L692.5 594.5L692.5 593.5L692.5 592.5L693.5 591.5L694.5 591.5L696.5 590.5L697.5 590.5L697.5 589.5L697.5 588.5L697.5 587.5L695.5 587.5L694.5 587.5M701.5 595.5L701.5 596.5L701.5 595.5M707.5 587.5L706.5 587.5L705.5 588.5L704.5 591.5L704.5 592.5L705.5 594.5L706.5 596.5L707.5 596.5L708.5 596.5L709.5 596.5L710.5 594.5L710.5 592.5L710.5 591.5L710.5 588.5L709.5 587.5L708.5 587.5L707.5 587.5M714.5 587.5L718.5 587.5L716.5 590.5L717.5 590.5L718.5 591.5L719.5 592.5L719.5 593.5L718.5 595.5L718.5 596.5L716.5 596.5L715.5 596.5L714.5 596.5L713.5 595.5L713.5 594.5M722.5 595.5L722.5 596.5L723.5 596.5L722.5 595.5M726.5 589.5L726.5 588.5L726.5 587.5L727.5 587.5L728.5 587.5L729.5 587.5L730.5 587.5L731.5 587.5L731.5 588.5L731.5 589.5L731.5 590.5L730.5 592.5L726.5 596.5L732.5 596.5M737.5 587.5L735.5 587.5L735.5 588.5L734.5 591.5L734.5 592.5L735.5 594.5L735.5 596.5L737.5 596.5L739.5 596.5L740.5 594.5L740.5 592.5L740.5 591.5L740.5 588.5L739.5 587.5L737.5 587.5M743.5 589.5L743.5 588.5L743.5 587.5L744.5 587.5L745.5 587.5L746.5 587.5L747.5 587.5L748.5 587.5L748.5 588.5L748.5 589.5L748.5 590.5L747.5 592.5L743.5 596.5L749.5 596.5M757.5 588.5L756.5 587.5L755.5 587.5L754.5 587.5L753.5 587.5L752.5 588.5L751.5 591.5L751.5 593.5L752.5 595.5L753.5 596.5L754.5 596.5L756.5 596.5L757.5 595.5L757.5 593.5L757.5 592.5L756.5 591.5L754.5 590.5L753.5 591.5L752.5 592.5L751.5 593.5M603.5 604.5L603.5 614.5M603.5 604.5L606.5 614.5M610.5 604.5L606.5 614.5M610.5 604.5L610.5 614.5M619.5 605.5L618.5 605.5L617.5 604.5L615.5 604.5L614.5 605.5L613.5 605.5L613.5 606.5L613.5 607.5L614.5 608.5L617.5 609.5L618.5 609.5L618.5 610.5L619.5 611.5L619.5 612.5L618.5 613.5L617.5 614.5L615.5 614.5L614.5 613.5L613.5 612.5M622.5 604.5L622.5 614.5M628.5 604.5L622.5 610.5M624.5 608.5L628.5 614.5M635.5 606.5L636.5 605.5L637.5 604.5L637.5 614.5M648.5 607.5L648.5 609.5L647.5 609.5L645.5 610.5L644.5 609.5L643.5 609.5L642.5 607.5L643.5 605.5L644.5 605.5L645.5 604.5L647.5 605.5L648.5 605.5L648.5 607.5L648.5 609.5L648.5 612.5L647.5 613.5L645.5 614.5L643.5 613.5L643.5 612.5M652.5 607.5L651.5 608.5L652.5 608.5L652.5 607.5M652.5 613.5L651.5 613.5L652.5 614.5L652.5 613.5M658.5 604.5L656.5 605.5L656.5 606.5L655.5 608.5L655.5 609.5L656.5 612.5L656.5 613.5L658.5 614.5L659.5 614.5L660.5 613.5L661.5 612.5L661.5 609.5L661.5 608.5L661.5 606.5L660.5 605.5L659.5 604.5L658.5 604.5M669.5 604.5L664.5 604.5L664.5 608.5L666.5 607.5L667.5 607.5L668.5 608.5L669.5 609.5L670.5 610.5L670.5 611.5L669.5 612.5L668.5 613.5L667.5 614.5L666.5 614.5L664.5 613.5L664.5 612.5M673.5 613.5L673.5 614.5L673.5 613.5L673.5 614.5L673.5 615.5M684.5 606.5L685.5 605.5L687.5 604.5L687.5 614.5M694.5 604.5L692.5 605.5L692.5 606.5L692.5 607.5L693.5 608.5L695.5 608.5L696.5 609.5L697.5 609.5L698.5 610.5L698.5 612.5L697.5 613.5L695.5 614.5L694.5 614.5L692.5 613.5L692.5 612.5L692.5 610.5L692.5 609.5L693.5 609.5L694.5 608.5L696.5 608.5L697.5 607.5L697.5 606.5L697.5 605.5L695.5 604.5L694.5 604.5M701.5 613.5L701.5 614.5L701.5 613.5M707.5 604.5L706.5 605.5L705.5 606.5L704.5 608.5L704.5 609.5L705.5 612.5L706.5 613.5L707.5 614.5L708.5 614.5L709.5 613.5L710.5 612.5L710.5 609.5L710.5 608.5L710.5 606.5L709.5 605.5L708.5 604.5L707.5 604.5M714.5 604.5L718.5 604.5L716.5 608.5L717.5 608.5L718.5 608.5L718.5 609.5L719.5 610.5L719.5 611.5L718.5 612.5L718.5 613.5L716.5 614.5L715.5 614.5L714.5 613.5L713.5 613.5L713.5 612.5M722.5 613.5L722.5 614.5L723.5 613.5L722.5 613.5M726.5 606.5L726.5 605.5L727.5 605.5L728.5 604.5L729.5 604.5L730.5 605.5L731.5 605.5L731.5 606.5L731.5 607.5L731.5 608.5L730.5 609.5L726.5 614.5L732.5 614.5M737.5 604.5L735.5 605.5L735.5 606.5L734.5 608.5L734.5 609.5L735.5 612.5L735.5 613.5L737.5 614.5L739.5 613.5L740.5 612.5L740.5 609.5L740.5 608.5L740.5 606.5L739.5 605.5L737.5 604.5M743.5 606.5L743.5 605.5L744.5 605.5L745.5 604.5L746.5 604.5L747.5 605.5L748.5 605.5L748.5 606.5L748.5 607.5L748.5 608.5L747.5 609.5L743.5 614.5L749.5 614.5M757.5 605.5L756.5 605.5L755.5 604.5L754.5 604.5L753.5 605.5L752.5 606.5L751.5 608.5L751.5 610.5L752.5 612.5L753.5 613.5L754.5 614.5L756.5 613.5L757.5 612.5L757.5 611.5L757.5 610.5L757.5 609.5L756.5 608.5L754.5 608.5L753.5 608.5L752.5 609.5L751.5 610.5M631.5 89.5L631.5 98.5M628.5 89.5L634.5 89.5M636.5 89.5L636.5 98.5M636.5 94.5L637.5 92.5L638.5 92.5L639.5 92.5L640.5 92.5L641.5 94.5L641.5 98.5M644.5 95.5L649.5 95.5L649.5 94.5L648.5 93.5L648.5 92.5L647.5 92.5L646.5 92.5L645.5 92.5L644.5 93.5L644.5 95.5L644.5 96.5L644.5 97.5L645.5 98.5L646.5 98.5L647.5 98.5L648.5 98.5L649.5 97.5M658.5 89.5L658.5 98.5M658.5 89.5L661.5 89.5L663.5 89.5L663.5 90.5L664.5 91.5L664.5 92.5L664.5 95.5L664.5 96.5L663.5 97.5L663.5 98.5L661.5 98.5L658.5 98.5M671.5 93.5L671.5 92.5L670.5 92.5L668.5 92.5L667.5 92.5L667.5 93.5L667.5 94.5L668.5 95.5L670.5 95.5L671.5 96.5L671.5 97.5L671.5 98.5L670.5 98.5L668.5 98.5L667.5 98.5L667.5 97.5M675.5 89.5L675.5 96.5L675.5 98.5L676.5 98.5L677.5 98.5M673.5 92.5L676.5 92.5M680.5 98.5L679.5 98.5L680.5 97.5L680.5 98.5L680.5 99.5L680.5 100.5L679.5 100.5M690.5 89.5L690.5 98.5M696.5 89.5L690.5 95.5M692.5 93.5L696.5 98.5M698.5 92.5L701.5 98.5M703.5 92.5L701.5 98.5L700.5 100.5L699.5 101.5L698.5 101.5M708.5 92.5L707.5 92.5L706.5 93.5L705.5 95.5L705.5 96.5L706.5 97.5L707.5 98.5L708.5 98.5L709.5 98.5L710.5 98.5L711.5 97.5L711.5 96.5L711.5 95.5L711.5 93.5L710.5 92.5L709.5 92.5L708.5 92.5M714.5 89.5L714.5 96.5L715.5 98.5L716.5 98.5M713.5 92.5L716.5 92.5M721.5 92.5L720.5 92.5L719.5 93.5L719.5 95.5L719.5 96.5L719.5 97.5L720.5 98.5L721.5 98.5L722.5 98.5L723.5 98.5L724.5 97.5L724.5 96.5L724.5 95.5L724.5 93.5L723.5 92.5L722.5 92.5L721.5 92.5M631.5 116.5L631.5 125.5M628.5 116.5L634.5 116.5M636.5 116.5L636.5 125.5M636.5 121.5L637.5 119.5L638.5 119.5L639.5 119.5L640.5 119.5L641.5 121.5L641.5 125.5M644.5 122.5L649.5 122.5L649.5 121.5L648.5 120.5L648.5 119.5L647.5 119.5L646.5 119.5L645.5 119.5L644.5 120.5L644.5 122.5L644.5 123.5L644.5 124.5L645.5 125.5L646.5 125.5L647.5 125.5L648.5 125.5L649.5 124.5M658.5 119.5L658.5 125.5M658.5 122.5L659.5 120.5L660.5 119.5L662.5 119.5M663.5 122.5L668.5 122.5L668.5 121.5L668.5 120.5L668.5 119.5L667.5 119.5L665.5 119.5L664.5 120.5L663.5 122.5L663.5 123.5L664.5 124.5L665.5 125.5L667.5 125.5L668.5 125.5L668.5 124.5M676.5 120.5L675.5 119.5L674.5 119.5L673.5 119.5L672.5 119.5L671.5 120.5L671.5 122.5L671.5 123.5L671.5 124.5L672.5 125.5L673.5 125.5L674.5 125.5L675.5 125.5L676.5 124.5M681.5 119.5L680.5 119.5L679.5 120.5L678.5 122.5L678.5 123.5L679.5 124.5L680.5 125.5L681.5 125.5L682.5 125.5L683.5 125.5L684.5 124.5L684.5 123.5L684.5 122.5L684.5 120.5L683.5 119.5L682.5 119.5L681.5 119.5M686.5 119.5L689.5 125.5M691.5 119.5L689.5 125.5M693.5 122.5L698.5 122.5L698.5 121.5L698.5 120.5L697.5 119.5L695.5 119.5L694.5 119.5L694.5 120.5L693.5 122.5L693.5 123.5L694.5 124.5L694.5 125.5L695.5 125.5L697.5 125.5L698.5 124.5M701.5 119.5L701.5 125.5M701.5 122.5L702.5 120.5L702.5 119.5L703.5 119.5L705.5 119.5M706.5 122.5L711.5 122.5L711.5 121.5L711.5 120.5L710.5 119.5L708.5 119.5L707.5 120.5L706.5 122.5L706.5 123.5L707.5 124.5L708.5 125.5L710.5 125.5L711.5 124.5M719.5 116.5L719.5 125.5M719.5 120.5L718.5 119.5L717.5 119.5L716.5 119.5L715.5 119.5L714.5 120.5L714.5 122.5L714.5 123.5L714.5 124.5L715.5 125.5L716.5 125.5L717.5 125.5L718.5 125.5L719.5 124.5M729.5 116.5L729.5 125.5M729.5 116.5L732.5 116.5L733.5 116.5L734.5 117.5L734.5 118.5L735.5 119.5L735.5 122.5L734.5 123.5L734.5 124.5L733.5 125.5L732.5 125.5L729.5 125.5M742.5 120.5L742.5 119.5L740.5 119.5L739.5 119.5L738.5 119.5L737.5 120.5L738.5 121.5L739.5 122.5L741.5 122.5L742.5 123.5L742.5 124.5L742.5 125.5L740.5 125.5L739.5 125.5L738.5 125.5L737.5 124.5M745.5 116.5L745.5 123.5L746.5 125.5L747.5 125.5L748.5 125.5M744.5 119.5L747.5 119.5M631.5 142.5L631.5 151.5M628.5 142.5L634.5 142.5M636.5 142.5L636.5 151.5M636.5 147.5L637.5 145.5L638.5 145.5L639.5 145.5L640.5 145.5L641.5 147.5L641.5 151.5M644.5 148.5L649.5 148.5L649.5 147.5L648.5 146.5L648.5 145.5L647.5 145.5L646.5 145.5L645.5 145.5L644.5 146.5L644.5 148.5L644.5 149.5L644.5 150.5L645.5 151.5L646.5 151.5L647.5 151.5L648.5 151.5L649.5 150.5M658.5 142.5L658.5 151.5M658.5 142.5L661.5 142.5L662.5 142.5L663.5 143.5L664.5 144.5L664.5 145.5L664.5 148.5L664.5 149.5L663.5 150.5L662.5 151.5L661.5 151.5L658.5 151.5M671.5 146.5L671.5 145.5L670.5 145.5L668.5 145.5L667.5 145.5L667.5 146.5L667.5 147.5L668.5 148.5L670.5 148.5L671.5 149.5L671.5 150.5L671.5 151.5L670.5 151.5L668.5 151.5L667.5 151.5L667.5 150.5M675.5 142.5L675.5 149.5L675.5 151.5L676.5 151.5L677.5 151.5M673.5 145.5L676.5 145.5M686.5 145.5L686.5 154.5M686.5 146.5L687.5 145.5L688.5 145.5L689.5 145.5L690.5 145.5L691.5 146.5L691.5 148.5L691.5 149.5L691.5 150.5L690.5 151.5L689.5 151.5L688.5 151.5L687.5 151.5L686.5 150.5M694.5 145.5L694.5 151.5M694.5 148.5L694.5 146.5L695.5 145.5L696.5 145.5L697.5 145.5M699.5 148.5L704.5 148.5L704.5 147.5L704.5 146.5L703.5 145.5L702.5 145.5L701.5 145.5L700.5 145.5L699.5 146.5L699.5 148.5L699.5 149.5L699.5 150.5L700.5 151.5L701.5 151.5L702.5 151.5L703.5 151.5L704.5 150.5M712.5 142.5L712.5 151.5M712.5 146.5L711.5 145.5L710.5 145.5L709.5 145.5L708.5 145.5L707.5 146.5L707.5 148.5L707.5 149.5L707.5 150.5L708.5 151.5L709.5 151.5L710.5 151.5L711.5 151.5L712.5 150.5M715.5 142.5L715.5 141.5L715.5 142.5M715.5 145.5L715.5 151.5M723.5 146.5L722.5 145.5L721.5 145.5L720.5 145.5L719.5 145.5L718.5 146.5L718.5 148.5L718.5 149.5L718.5 150.5L719.5 151.5L720.5 151.5L721.5 151.5L722.5 151.5L723.5 150.5M726.5 142.5L726.5 149.5L727.5 151.5L728.5 151.5M725.5 145.5L728.5 145.5M731.5 142.5L731.5 141.5L731.5 142.5M731.5 145.5L731.5 151.5M736.5 145.5L735.5 145.5L734.5 146.5L734.5 148.5L734.5 149.5L734.5 150.5L735.5 151.5L736.5 151.5L737.5 151.5L738.5 151.5L739.5 150.5L739.5 149.5L739.5 148.5L739.5 146.5L738.5 145.5L737.5 145.5L736.5 145.5M742.5 145.5L742.5 151.5M742.5 147.5L744.5 145.5L746.5 145.5L747.5 145.5L747.5 147.5L747.5 151.5M629.5 162.5L630.5 161.5L630.5 160.5L631.5 160.5L633.5 160.5L634.5 160.5L634.5 161.5L634.5 162.5L634.5 163.5L633.5 165.5L629.5 169.5L635.5 169.5M638.5 165.5L645.5 165.5M653.5 160.5L648.5 166.5L655.5 166.5M653.5 160.5L653.5 169.5M664.5 160.5L664.5 169.5M664.5 165.5L665.5 163.5L666.5 163.5L667.5 163.5L668.5 163.5L669.5 165.5L669.5 169.5M674.5 163.5L673.5 163.5L672.5 164.5L672.5 166.5L672.5 167.5L672.5 168.5L673.5 169.5L674.5 169.5L675.5 169.5L676.5 169.5L677.5 168.5L677.5 167.5L677.5 166.5L677.5 164.5L676.5 163.5L675.5 163.5L674.5 163.5M680.5 163.5L680.5 167.5L681.5 169.5L683.5 169.5L684.5 169.5L685.5 167.5M685.5 163.5L685.5 169.5M688.5 163.5L688.5 169.5M688.5 166.5L689.5 164.5L689.5 163.5L690.5 163.5L692.5 163.5M698.5 164.5L697.5 163.5L696.5 163.5L695.5 163.5L694.5 163.5L693.5 164.5L694.5 165.5L694.5 166.5L697.5 166.5L697.5 167.5L698.5 167.5L698.5 168.5L697.5 169.5L696.5 169.5L695.5 169.5L694.5 169.5L693.5 168.5M712.5 163.5L712.5 169.5M712.5 164.5L711.5 163.5L709.5 163.5L708.5 163.5L708.5 164.5L707.5 166.5L707.5 167.5L708.5 168.5L708.5 169.5L709.5 169.5L711.5 169.5L712.5 168.5M716.5 160.5L716.5 169.5M716.5 165.5L717.5 163.5L718.5 163.5L719.5 163.5L720.5 163.5L720.5 165.5L720.5 169.5M723.5 166.5L728.5 166.5L728.5 165.5L728.5 164.5L727.5 163.5L725.5 163.5L724.5 163.5L724.5 164.5L723.5 166.5L723.5 167.5L724.5 168.5L724.5 169.5L725.5 169.5L727.5 169.5L728.5 168.5M736.5 163.5L736.5 169.5M736.5 164.5L735.5 163.5L734.5 163.5L733.5 163.5L732.5 163.5L731.5 164.5L731.5 166.5L731.5 167.5L731.5 168.5L732.5 169.5L733.5 169.5L734.5 169.5L735.5 169.5L736.5 168.5M744.5 160.5L744.5 169.5M744.5 164.5L743.5 163.5L742.5 163.5L741.5 163.5L740.5 163.5L739.5 164.5L739.5 166.5L739.5 167.5L739.5 168.5L740.5 169.5L741.5 169.5L742.5 169.5L743.5 169.5L744.5 168.5M630.5 186.5L630.5 195.5M630.5 186.5L634.5 186.5L635.5 186.5L635.5 187.5L636.5 188.5L636.5 189.5L635.5 190.5L634.5 191.5L630.5 191.5M639.5 189.5L639.5 195.5M639.5 192.5L639.5 190.5L640.5 189.5L641.5 189.5L642.5 189.5M644.5 192.5L649.5 192.5L649.5 191.5L648.5 190.5L648.5 189.5L647.5 189.5L646.5 189.5L645.5 189.5L644.5 190.5L644.5 192.5L644.5 193.5L644.5 194.5L645.5 195.5L646.5 195.5L647.5 195.5L648.5 195.5L649.5 194.5M656.5 186.5L656.5 195.5M656.5 190.5L655.5 189.5L653.5 189.5L652.5 189.5L652.5 190.5L651.5 192.5L651.5 193.5L652.5 194.5L652.5 195.5L653.5 195.5L655.5 195.5L656.5 194.5M659.5 186.5L660.5 186.5L660.5 185.5L659.5 186.5M660.5 189.5L660.5 195.5M667.5 190.5L667.5 189.5L666.5 189.5L665.5 189.5L664.5 189.5L663.5 190.5L662.5 192.5L662.5 193.5L663.5 194.5L664.5 195.5L665.5 195.5L666.5 195.5L667.5 195.5L667.5 194.5M671.5 186.5L671.5 193.5L671.5 195.5L672.5 195.5L673.5 195.5M670.5 189.5L672.5 189.5M675.5 186.5L676.5 186.5L675.5 185.5L675.5 186.5M675.5 189.5L675.5 195.5M680.5 189.5L679.5 190.5L678.5 192.5L678.5 193.5L679.5 194.5L680.5 195.5L682.5 195.5L683.5 194.5L684.5 193.5L684.5 192.5L683.5 190.5L682.5 189.5L680.5 189.5M687.5 189.5L687.5 195.5M687.5 191.5L688.5 189.5L689.5 189.5L690.5 189.5L691.5 189.5L691.5 191.5L691.5 195.5M703.5 189.5L702.5 189.5L701.5 190.5L701.5 192.5L701.5 193.5L701.5 194.5L702.5 195.5L703.5 195.5L704.5 195.5L705.5 195.5L706.5 194.5L706.5 193.5L706.5 192.5L706.5 190.5L705.5 189.5L704.5 189.5L703.5 189.5M712.5 186.5L711.5 186.5L710.5 186.5L709.5 188.5L709.5 195.5M708.5 189.5L711.5 189.5M721.5 186.5L721.5 193.5L722.5 195.5L723.5 195.5M720.5 189.5L723.5 189.5M726.5 186.5L726.5 195.5M726.5 191.5L727.5 189.5L728.5 189.5L729.5 189.5L730.5 189.5L730.5 191.5L730.5 195.5M733.5 192.5L738.5 192.5L738.5 191.5L738.5 190.5L737.5 189.5L735.5 189.5L734.5 189.5L734.5 190.5L733.5 192.5L733.5 193.5L734.5 194.5L734.5 195.5L735.5 195.5L737.5 195.5L738.5 194.5M634.5 208.5L634.5 207.5L632.5 207.5L631.5 207.5L630.5 207.5L629.5 208.5L630.5 209.5L631.5 210.5L633.5 210.5L634.5 211.5L634.5 212.5L634.5 213.5L632.5 213.5L631.5 213.5L630.5 213.5L629.5 212.5M637.5 204.5L637.5 211.5L638.5 213.5L639.5 213.5M636.5 207.5L639.5 207.5M644.5 207.5L643.5 207.5L642.5 208.5L642.5 210.5L642.5 211.5L642.5 212.5L643.5 213.5L644.5 213.5L645.5 213.5L646.5 213.5L647.5 212.5L647.5 211.5L647.5 210.5L647.5 208.5L646.5 207.5L645.5 207.5L644.5 207.5M650.5 207.5L650.5 213.5M650.5 210.5L650.5 208.5L651.5 207.5L652.5 207.5L653.5 207.5M655.5 207.5L655.5 213.5M655.5 209.5L657.5 207.5L658.5 207.5L659.5 207.5L660.5 207.5L660.5 209.5L660.5 213.5M660.5 209.5L661.5 207.5L662.5 207.5L664.5 207.5L665.5 209.5L665.5 213.5M679.5 208.5L679.5 207.5L677.5 207.5L676.5 207.5L675.5 207.5L675.5 208.5L675.5 209.5L676.5 210.5L678.5 210.5L679.5 211.5L679.5 212.5L679.5 213.5L677.5 213.5L676.5 213.5L675.5 213.5L675.5 212.5M683.5 204.5L683.5 211.5L683.5 213.5L684.5 213.5L685.5 213.5M681.5 207.5L684.5 207.5M687.5 207.5L687.5 213.5M687.5 210.5L688.5 208.5L688.5 207.5L689.5 207.5L691.5 207.5M692.5 210.5L697.5 210.5L697.5 209.5L697.5 208.5L696.5 207.5L694.5 207.5L693.5 208.5L692.5 210.5L692.5 211.5L693.5 212.5L694.5 213.5L696.5 213.5L697.5 212.5M700.5 207.5L700.5 213.5M700.5 209.5L702.5 207.5L704.5 207.5L705.5 207.5L705.5 209.5L705.5 213.5M713.5 207.5L713.5 214.5L713.5 215.5L712.5 216.5L711.5 216.5L710.5 216.5L709.5 216.5M713.5 208.5L712.5 207.5L711.5 207.5L710.5 207.5L709.5 207.5L708.5 208.5L708.5 210.5L708.5 211.5L708.5 212.5L709.5 213.5L710.5 213.5L711.5 213.5L712.5 213.5L713.5 212.5M717.5 204.5L717.5 211.5L717.5 213.5L718.5 213.5L719.5 213.5M715.5 207.5L718.5 207.5M721.5 204.5L721.5 213.5M721.5 209.5L723.5 207.5L724.5 207.5L725.5 207.5L726.5 207.5L726.5 209.5L726.5 213.5M632.5 220.5L632.5 221.5L631.5 222.5L630.5 224.5L630.5 226.5L630.5 228.5L630.5 230.5L631.5 232.5L632.5 233.5L632.5 234.5M635.5 225.5L635.5 231.5M635.5 227.5L637.5 225.5L638.5 225.5L639.5 225.5L640.5 225.5L640.5 227.5L640.5 231.5M640.5 227.5L641.5 225.5L642.5 225.5L643.5 225.5L644.5 225.5L645.5 227.5L645.5 231.5M648.5 222.5L649.5 222.5L648.5 221.5L648.5 222.5M648.5 225.5L648.5 231.5M652.5 225.5L652.5 231.5M652.5 227.5L653.5 225.5L654.5 225.5L655.5 225.5L656.5 225.5L656.5 227.5L656.5 231.5M666.5 222.5L666.5 231.5M666.5 222.5L669.5 222.5L671.5 222.5L671.5 223.5L672.5 224.5L672.5 225.5L672.5 228.5L672.5 229.5L671.5 230.5L671.5 231.5L669.5 231.5L666.5 231.5M680.5 226.5L679.5 225.5L678.5 225.5L677.5 225.5L675.5 225.5L675.5 226.5L675.5 227.5L676.5 228.5L678.5 228.5L679.5 229.5L680.5 229.5L680.5 230.5L679.5 231.5L678.5 231.5L677.5 231.5L675.5 231.5L675.5 230.5M683.5 222.5L683.5 229.5L683.5 231.5L684.5 231.5L685.5 231.5M682.5 225.5L685.5 225.5M687.5 220.5L688.5 221.5L689.5 222.5L690.5 224.5L690.5 226.5L690.5 228.5L690.5 230.5L689.5 232.5L688.5 233.5L687.5 234.5M631.5 330.5L631.5 339.5M631.5 330.5L634.5 330.5L636.5 330.5L637.5 331.5L637.5 332.5L636.5 333.5L636.5 334.5L634.5 334.5M631.5 334.5L634.5 334.5L636.5 335.5L637.5 336.5L637.5 337.5L636.5 338.5L636.5 339.5L634.5 339.5L631.5 339.5M644.5 333.5L639.5 339.5M639.5 333.5L644.5 333.5M639.5 339.5L644.5 339.5M657.5 328.5L656.5 329.5L655.5 330.5L654.5 332.5L654.5 334.5L654.5 336.5L654.5 338.5L655.5 340.5L656.5 341.5L657.5 342.5M660.5 333.5L660.5 339.5M660.5 335.5L661.5 333.5L662.5 333.5L663.5 333.5L664.5 333.5L665.5 335.5L665.5 339.5M670.5 330.5L670.5 339.5M667.5 330.5L673.5 330.5M676.5 339.5L675.5 339.5L675.5 338.5L676.5 339.5L675.5 340.5L675.5 341.5M692.5 332.5L692.5 331.5L691.5 330.5L690.5 330.5L688.5 330.5L687.5 331.5L686.5 332.5L686.5 333.5L686.5 335.5L686.5 337.5L687.5 338.5L688.5 339.5L690.5 339.5L691.5 339.5L692.5 338.5L692.5 337.5L692.5 335.5M690.5 335.5L692.5 335.5M701.5 331.5L700.5 330.5L699.5 330.5L697.5 330.5L696.5 330.5L695.5 331.5L695.5 332.5L695.5 333.5L696.5 333.5L697.5 334.5L699.5 335.5L700.5 335.5L701.5 336.5L701.5 338.5L700.5 339.5L699.5 339.5L697.5 339.5L696.5 339.5L695.5 338.5M704.5 330.5L704.5 339.5M704.5 330.5L707.5 339.5M711.5 330.5L707.5 339.5M711.5 330.5L711.5 339.5M714.5 328.5L715.5 329.5L716.5 330.5L716.5 332.5L717.5 334.5L717.5 336.5L716.5 338.5L716.5 340.5L715.5 341.5L714.5 342.5M630.5 415.5L633.5 424.5M637.5 415.5L633.5 424.5M649.5 413.5L648.5 414.5L647.5 415.5L646.5 417.5L646.5 419.5L646.5 421.5L646.5 423.5L647.5 425.5L648.5 426.5L649.5 427.5M652.5 415.5L652.5 424.5M656.5 418.5L652.5 422.5M653.5 420.5L656.5 424.5M659.5 418.5L659.5 424.5M659.5 420.5L660.5 418.5L661.5 418.5L662.5 418.5L663.5 418.5L664.5 420.5L664.5 424.5M664.5 420.5L665.5 418.5L666.5 418.5L667.5 418.5L668.5 418.5L668.5 420.5L668.5 424.5M679.5 413.5L671.5 427.5M686.5 419.5L685.5 418.5L684.5 418.5L683.5 418.5L681.5 418.5L681.5 419.5L681.5 420.5L682.5 420.5L684.5 421.5L685.5 421.5L686.5 422.5L686.5 423.5L685.5 424.5L684.5 424.5L683.5 424.5L681.5 424.5L681.5 423.5M688.5 413.5L689.5 414.5L690.5 415.5L691.5 417.5L691.5 419.5L691.5 421.5L691.5 423.5L690.5 425.5L689.5 426.5L688.5 427.5" fill="none" stroke="#000" stroke-width="1" stroke-linecap="square"/>
<path d="M39 506.81L39 512.59L39.44 513.75L40.3 514.51L41.61 514.9L42.48 514.9L43.78 514.51L44.66 513.75L45.09 512.59L45.09 506.81M50.31 506.81L50.31 514.9M47.27 506.81L53.35 506.81M39 520.63L39 528.4M39 520.63L42.48 528.4M45.96 520.63L42.48 528.4M45.96 520.63L45.96 528.4M55.09 521.74L54.23 521L52.92 520.63L51.18 520.63L49.88 521L49 521.74L49 522.48L49.44 523.22L49.88 523.59L50.74 523.96L53.35 524.7L54.23 525.07L54.66 525.44L55.09 526.18L55.09 527.29L54.23 528.03L52.92 528.4L51.18 528.4L49.88 528.03L49 527.29M58.14 520.63L58.14 528.4M64.23 520.63L58.14 525.81M60.31 523.96L64.23 528.4" fill="none" stroke="#000" stroke-width="2" stroke-linecap="square" stroke-linejoin="miter"/>
<g shape-rendering="auto" fill="#1c1c1c">
<rect x="81.5" y="589" width="6" height="23"/><rect x="79" y="588.8" width="11" height="1.6"/><rect x="79" y="611" width="11" height="1.6"/>
<path d="M84.5 611.5L96 589.5L97.5 590.5L86 612Z"/>
<rect x="95.5" y="589" width="6.5" height="23"/><rect x="93.5" y="588.8" width="10.5" height="1.6"/><rect x="93.5" y="611" width="10.5" height="1.6"/>
<circle cx="110.2" cy="592.8" r="5.4"/>
<path d="M106.6 595.6L113.2 589L114.6 590.4L108 597Z" fill="#aaa"/>
<path d="M102 601.5L107.5 598L116.5 611.2L110.5 611.2Z"/><rect x="110" y="611" width="7.5" height="1.6"/>
<rect x="121" y="589" width="6" height="23"/><rect x="118" y="588.8" width="10.5" height="1.6"/><rect x="118" y="611" width="10.5" height="1.6"/>
<path d="M123.5 611.5L135 589.5L136.5 590.5L125 612Z"/>
<rect x="134" y="589" width="6" height="23"/><rect x="131.5" y="588.8" width="11.5" height="1.6"/><rect x="131.5" y="611" width="11.5" height="1.6"/>
</g>
</svg></body></html>
